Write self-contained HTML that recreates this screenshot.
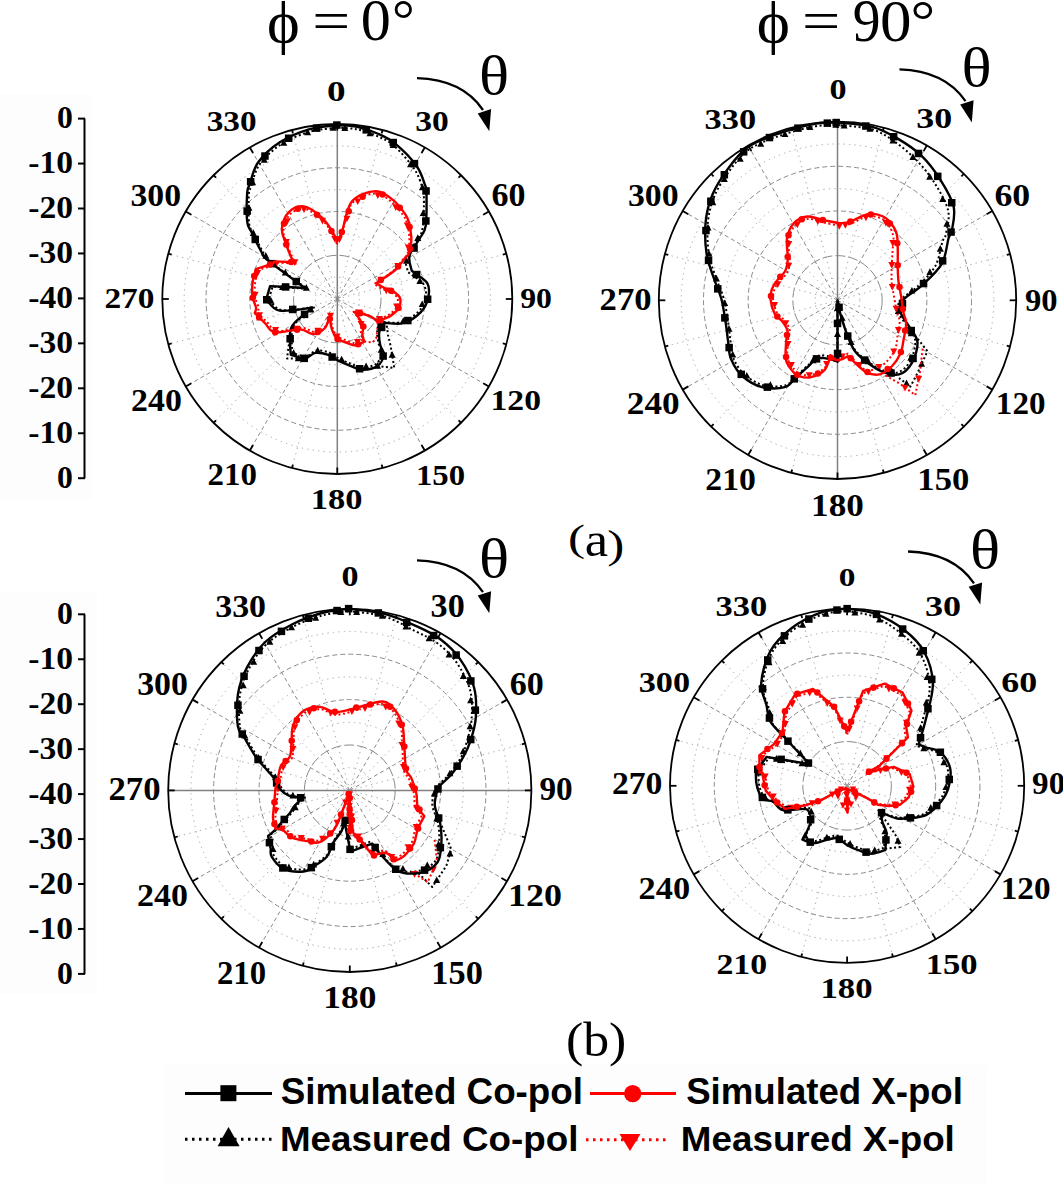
<!DOCTYPE html><html><head><meta charset="utf-8"><style>html,body{margin:0;padding:0;background:#fff;overflow:hidden}svg{display:block}</style></head><body><svg width="1063" height="1185" viewBox="0 0 1063 1185">
<rect width="1063" height="1185" fill="#fff"/>
<rect x="0" y="94" width="92" height="405" fill="#fdfdfd"/>
<rect x="0" y="592" width="97" height="402" fill="#fdfdfd"/>
<rect x="164" y="1065" width="823" height="120" fill="#fdfdfd"/>
<circle cx="337.3" cy="299" r="21.88" fill="none" stroke="#a8a8a8" stroke-width="1" stroke-dasharray="1.3 4.2"/>
<circle cx="337.3" cy="299" r="65.62" fill="none" stroke="#a8a8a8" stroke-width="1" stroke-dasharray="1.3 4.2"/>
<circle cx="337.3" cy="299" r="109.38" fill="none" stroke="#a8a8a8" stroke-width="1" stroke-dasharray="1.3 4.2"/>
<circle cx="337.3" cy="299" r="153.12" fill="none" stroke="#a8a8a8" stroke-width="1" stroke-dasharray="1.3 4.2"/>
<circle cx="337.3" cy="299" r="43.75" fill="none" stroke="#8a8a8a" stroke-width="1" stroke-dasharray="10 3"/>
<circle cx="337.3" cy="299" r="87.50" fill="none" stroke="#8a8a8a" stroke-width="1" stroke-dasharray="5 3"/>
<circle cx="337.3" cy="299" r="131.25" fill="none" stroke="#8a8a8a" stroke-width="1" stroke-dasharray="5 3"/>
<line x1="337.3" y1="299" x2="382.59" y2="129.96" stroke="#a8a8a8" stroke-width="1" stroke-dasharray="1.3 4.2"/>
<line x1="337.3" y1="299" x2="424.80" y2="147.45" stroke="#8a8a8a" stroke-width="1" stroke-dasharray="4 3"/>
<line x1="337.3" y1="299" x2="461.04" y2="175.26" stroke="#a8a8a8" stroke-width="1" stroke-dasharray="1.3 4.2"/>
<line x1="337.3" y1="299" x2="488.85" y2="211.50" stroke="#8a8a8a" stroke-width="1" stroke-dasharray="4 3"/>
<line x1="337.3" y1="299" x2="506.34" y2="253.71" stroke="#a8a8a8" stroke-width="1" stroke-dasharray="1.3 4.2"/>
<line x1="337.3" y1="299" x2="506.34" y2="344.29" stroke="#a8a8a8" stroke-width="1" stroke-dasharray="1.3 4.2"/>
<line x1="337.3" y1="299" x2="488.85" y2="386.50" stroke="#8a8a8a" stroke-width="1" stroke-dasharray="4 3"/>
<line x1="337.3" y1="299" x2="461.04" y2="422.74" stroke="#a8a8a8" stroke-width="1" stroke-dasharray="1.3 4.2"/>
<line x1="337.3" y1="299" x2="424.80" y2="450.55" stroke="#8a8a8a" stroke-width="1" stroke-dasharray="4 3"/>
<line x1="337.3" y1="299" x2="382.59" y2="468.04" stroke="#a8a8a8" stroke-width="1" stroke-dasharray="1.3 4.2"/>
<line x1="337.3" y1="299" x2="292.01" y2="468.04" stroke="#a8a8a8" stroke-width="1" stroke-dasharray="1.3 4.2"/>
<line x1="337.3" y1="299" x2="249.80" y2="450.55" stroke="#8a8a8a" stroke-width="1" stroke-dasharray="4 3"/>
<line x1="337.3" y1="299" x2="213.56" y2="422.74" stroke="#a8a8a8" stroke-width="1" stroke-dasharray="1.3 4.2"/>
<line x1="337.3" y1="299" x2="185.75" y2="386.50" stroke="#8a8a8a" stroke-width="1" stroke-dasharray="4 3"/>
<line x1="337.3" y1="299" x2="168.26" y2="344.29" stroke="#a8a8a8" stroke-width="1" stroke-dasharray="1.3 4.2"/>
<line x1="337.3" y1="299" x2="168.26" y2="253.71" stroke="#a8a8a8" stroke-width="1" stroke-dasharray="1.3 4.2"/>
<line x1="337.3" y1="299" x2="185.75" y2="211.50" stroke="#8a8a8a" stroke-width="1" stroke-dasharray="4 3"/>
<line x1="337.3" y1="299" x2="213.56" y2="175.26" stroke="#a8a8a8" stroke-width="1" stroke-dasharray="1.3 4.2"/>
<line x1="337.3" y1="299" x2="249.80" y2="147.45" stroke="#8a8a8a" stroke-width="1" stroke-dasharray="4 3"/>
<line x1="337.3" y1="299" x2="292.01" y2="129.96" stroke="#a8a8a8" stroke-width="1" stroke-dasharray="1.3 4.2"/>
<line x1="337.3" y1="124" x2="337.3" y2="474" stroke="#808080" stroke-width="1.5"/>
<circle cx="837.5" cy="300.3" r="22.34" fill="none" stroke="#a8a8a8" stroke-width="1" stroke-dasharray="1.3 4.2"/>
<circle cx="837.5" cy="300.3" r="67.01" fill="none" stroke="#a8a8a8" stroke-width="1" stroke-dasharray="1.3 4.2"/>
<circle cx="837.5" cy="300.3" r="111.69" fill="none" stroke="#a8a8a8" stroke-width="1" stroke-dasharray="1.3 4.2"/>
<circle cx="837.5" cy="300.3" r="156.36" fill="none" stroke="#a8a8a8" stroke-width="1" stroke-dasharray="1.3 4.2"/>
<circle cx="837.5" cy="300.3" r="44.67" fill="none" stroke="#8a8a8a" stroke-width="1" stroke-dasharray="10 3"/>
<circle cx="837.5" cy="300.3" r="89.35" fill="none" stroke="#8a8a8a" stroke-width="1" stroke-dasharray="5 3"/>
<circle cx="837.5" cy="300.3" r="134.02" fill="none" stroke="#8a8a8a" stroke-width="1" stroke-dasharray="5 3"/>
<line x1="837.5" y1="300.3" x2="883.75" y2="127.69" stroke="#a8a8a8" stroke-width="1" stroke-dasharray="1.3 4.2"/>
<line x1="837.5" y1="300.3" x2="926.85" y2="145.54" stroke="#8a8a8a" stroke-width="1" stroke-dasharray="4 3"/>
<line x1="837.5" y1="300.3" x2="963.86" y2="173.94" stroke="#a8a8a8" stroke-width="1" stroke-dasharray="1.3 4.2"/>
<line x1="837.5" y1="300.3" x2="992.26" y2="210.95" stroke="#8a8a8a" stroke-width="1" stroke-dasharray="4 3"/>
<line x1="837.5" y1="300.3" x2="1010.11" y2="254.05" stroke="#a8a8a8" stroke-width="1" stroke-dasharray="1.3 4.2"/>
<line x1="837.5" y1="300.3" x2="1010.11" y2="346.55" stroke="#a8a8a8" stroke-width="1" stroke-dasharray="1.3 4.2"/>
<line x1="837.5" y1="300.3" x2="992.26" y2="389.65" stroke="#8a8a8a" stroke-width="1" stroke-dasharray="4 3"/>
<line x1="837.5" y1="300.3" x2="963.86" y2="426.66" stroke="#a8a8a8" stroke-width="1" stroke-dasharray="1.3 4.2"/>
<line x1="837.5" y1="300.3" x2="926.85" y2="455.06" stroke="#8a8a8a" stroke-width="1" stroke-dasharray="4 3"/>
<line x1="837.5" y1="300.3" x2="883.75" y2="472.91" stroke="#a8a8a8" stroke-width="1" stroke-dasharray="1.3 4.2"/>
<line x1="837.5" y1="300.3" x2="791.25" y2="472.91" stroke="#a8a8a8" stroke-width="1" stroke-dasharray="1.3 4.2"/>
<line x1="837.5" y1="300.3" x2="748.15" y2="455.06" stroke="#8a8a8a" stroke-width="1" stroke-dasharray="4 3"/>
<line x1="837.5" y1="300.3" x2="711.14" y2="426.66" stroke="#a8a8a8" stroke-width="1" stroke-dasharray="1.3 4.2"/>
<line x1="837.5" y1="300.3" x2="682.74" y2="389.65" stroke="#8a8a8a" stroke-width="1" stroke-dasharray="4 3"/>
<line x1="837.5" y1="300.3" x2="664.89" y2="346.55" stroke="#a8a8a8" stroke-width="1" stroke-dasharray="1.3 4.2"/>
<line x1="837.5" y1="300.3" x2="664.89" y2="254.05" stroke="#a8a8a8" stroke-width="1" stroke-dasharray="1.3 4.2"/>
<line x1="837.5" y1="300.3" x2="682.74" y2="210.95" stroke="#8a8a8a" stroke-width="1" stroke-dasharray="4 3"/>
<line x1="837.5" y1="300.3" x2="711.14" y2="173.94" stroke="#a8a8a8" stroke-width="1" stroke-dasharray="1.3 4.2"/>
<line x1="837.5" y1="300.3" x2="748.15" y2="145.54" stroke="#8a8a8a" stroke-width="1" stroke-dasharray="4 3"/>
<line x1="837.5" y1="300.3" x2="791.25" y2="127.69" stroke="#a8a8a8" stroke-width="1" stroke-dasharray="1.3 4.2"/>
<line x1="837.5" y1="121.60000000000002" x2="837.5" y2="479.0" stroke="#808080" stroke-width="1.5"/>
<circle cx="349.8" cy="790.4" r="22.70" fill="none" stroke="#a8a8a8" stroke-width="1" stroke-dasharray="1.3 4.2"/>
<circle cx="349.8" cy="790.4" r="68.10" fill="none" stroke="#a8a8a8" stroke-width="1" stroke-dasharray="1.3 4.2"/>
<circle cx="349.8" cy="790.4" r="113.50" fill="none" stroke="#a8a8a8" stroke-width="1" stroke-dasharray="1.3 4.2"/>
<circle cx="349.8" cy="790.4" r="158.90" fill="none" stroke="#a8a8a8" stroke-width="1" stroke-dasharray="1.3 4.2"/>
<circle cx="349.8" cy="790.4" r="45.40" fill="none" stroke="#8a8a8a" stroke-width="1" stroke-dasharray="10 3"/>
<circle cx="349.8" cy="790.4" r="90.80" fill="none" stroke="#8a8a8a" stroke-width="1" stroke-dasharray="5 3"/>
<circle cx="349.8" cy="790.4" r="136.20" fill="none" stroke="#8a8a8a" stroke-width="1" stroke-dasharray="5 3"/>
<line x1="349.8" y1="790.4" x2="396.80" y2="614.99" stroke="#a8a8a8" stroke-width="1" stroke-dasharray="1.3 4.2"/>
<line x1="349.8" y1="790.4" x2="440.60" y2="633.13" stroke="#8a8a8a" stroke-width="1" stroke-dasharray="4 3"/>
<line x1="349.8" y1="790.4" x2="478.21" y2="661.99" stroke="#a8a8a8" stroke-width="1" stroke-dasharray="1.3 4.2"/>
<line x1="349.8" y1="790.4" x2="507.07" y2="699.60" stroke="#8a8a8a" stroke-width="1" stroke-dasharray="4 3"/>
<line x1="349.8" y1="790.4" x2="525.21" y2="743.40" stroke="#a8a8a8" stroke-width="1" stroke-dasharray="1.3 4.2"/>
<line x1="349.8" y1="790.4" x2="525.21" y2="837.40" stroke="#a8a8a8" stroke-width="1" stroke-dasharray="1.3 4.2"/>
<line x1="349.8" y1="790.4" x2="507.07" y2="881.20" stroke="#8a8a8a" stroke-width="1" stroke-dasharray="4 3"/>
<line x1="349.8" y1="790.4" x2="478.21" y2="918.81" stroke="#a8a8a8" stroke-width="1" stroke-dasharray="1.3 4.2"/>
<line x1="349.8" y1="790.4" x2="440.60" y2="947.67" stroke="#8a8a8a" stroke-width="1" stroke-dasharray="4 3"/>
<line x1="349.8" y1="790.4" x2="396.80" y2="965.81" stroke="#a8a8a8" stroke-width="1" stroke-dasharray="1.3 4.2"/>
<line x1="349.8" y1="790.4" x2="302.80" y2="965.81" stroke="#a8a8a8" stroke-width="1" stroke-dasharray="1.3 4.2"/>
<line x1="349.8" y1="790.4" x2="259.00" y2="947.67" stroke="#8a8a8a" stroke-width="1" stroke-dasharray="4 3"/>
<line x1="349.8" y1="790.4" x2="221.39" y2="918.81" stroke="#a8a8a8" stroke-width="1" stroke-dasharray="1.3 4.2"/>
<line x1="349.8" y1="790.4" x2="192.53" y2="881.20" stroke="#8a8a8a" stroke-width="1" stroke-dasharray="4 3"/>
<line x1="349.8" y1="790.4" x2="174.39" y2="837.40" stroke="#a8a8a8" stroke-width="1" stroke-dasharray="1.3 4.2"/>
<line x1="349.8" y1="790.4" x2="174.39" y2="743.40" stroke="#a8a8a8" stroke-width="1" stroke-dasharray="1.3 4.2"/>
<line x1="349.8" y1="790.4" x2="192.53" y2="699.60" stroke="#8a8a8a" stroke-width="1" stroke-dasharray="4 3"/>
<line x1="349.8" y1="790.4" x2="221.39" y2="661.99" stroke="#a8a8a8" stroke-width="1" stroke-dasharray="1.3 4.2"/>
<line x1="349.8" y1="790.4" x2="259.00" y2="633.13" stroke="#8a8a8a" stroke-width="1" stroke-dasharray="4 3"/>
<line x1="349.8" y1="790.4" x2="302.80" y2="614.99" stroke="#a8a8a8" stroke-width="1" stroke-dasharray="1.3 4.2"/>
<line x1="168.20000000000002" y1="790.4" x2="531.4" y2="790.4" stroke="#808080" stroke-width="1.5"/>
<circle cx="847.1" cy="785.8" r="22.14" fill="none" stroke="#a8a8a8" stroke-width="1" stroke-dasharray="1.3 4.2"/>
<circle cx="847.1" cy="785.8" r="66.41" fill="none" stroke="#a8a8a8" stroke-width="1" stroke-dasharray="1.3 4.2"/>
<circle cx="847.1" cy="785.8" r="110.69" fill="none" stroke="#a8a8a8" stroke-width="1" stroke-dasharray="1.3 4.2"/>
<circle cx="847.1" cy="785.8" r="154.96" fill="none" stroke="#a8a8a8" stroke-width="1" stroke-dasharray="1.3 4.2"/>
<circle cx="847.1" cy="785.8" r="44.27" fill="none" stroke="#8a8a8a" stroke-width="1" stroke-dasharray="10 3"/>
<circle cx="847.1" cy="785.8" r="88.55" fill="none" stroke="#8a8a8a" stroke-width="1" stroke-dasharray="5 3"/>
<circle cx="847.1" cy="785.8" r="132.82" fill="none" stroke="#8a8a8a" stroke-width="1" stroke-dasharray="5 3"/>
<line x1="847.1" y1="785.8" x2="892.94" y2="614.73" stroke="#a8a8a8" stroke-width="1" stroke-dasharray="1.3 4.2"/>
<line x1="847.1" y1="785.8" x2="935.65" y2="632.43" stroke="#8a8a8a" stroke-width="1" stroke-dasharray="4 3"/>
<line x1="847.1" y1="785.8" x2="972.33" y2="660.57" stroke="#a8a8a8" stroke-width="1" stroke-dasharray="1.3 4.2"/>
<line x1="847.1" y1="785.8" x2="1000.47" y2="697.25" stroke="#8a8a8a" stroke-width="1" stroke-dasharray="4 3"/>
<line x1="847.1" y1="785.8" x2="1018.17" y2="739.96" stroke="#a8a8a8" stroke-width="1" stroke-dasharray="1.3 4.2"/>
<line x1="847.1" y1="785.8" x2="1018.17" y2="831.64" stroke="#a8a8a8" stroke-width="1" stroke-dasharray="1.3 4.2"/>
<line x1="847.1" y1="785.8" x2="1000.47" y2="874.35" stroke="#8a8a8a" stroke-width="1" stroke-dasharray="4 3"/>
<line x1="847.1" y1="785.8" x2="972.33" y2="911.03" stroke="#a8a8a8" stroke-width="1" stroke-dasharray="1.3 4.2"/>
<line x1="847.1" y1="785.8" x2="935.65" y2="939.17" stroke="#8a8a8a" stroke-width="1" stroke-dasharray="4 3"/>
<line x1="847.1" y1="785.8" x2="892.94" y2="956.87" stroke="#a8a8a8" stroke-width="1" stroke-dasharray="1.3 4.2"/>
<line x1="847.1" y1="785.8" x2="801.26" y2="956.87" stroke="#a8a8a8" stroke-width="1" stroke-dasharray="1.3 4.2"/>
<line x1="847.1" y1="785.8" x2="758.55" y2="939.17" stroke="#8a8a8a" stroke-width="1" stroke-dasharray="4 3"/>
<line x1="847.1" y1="785.8" x2="721.87" y2="911.03" stroke="#a8a8a8" stroke-width="1" stroke-dasharray="1.3 4.2"/>
<line x1="847.1" y1="785.8" x2="693.73" y2="874.35" stroke="#8a8a8a" stroke-width="1" stroke-dasharray="4 3"/>
<line x1="847.1" y1="785.8" x2="676.03" y2="831.64" stroke="#a8a8a8" stroke-width="1" stroke-dasharray="1.3 4.2"/>
<line x1="847.1" y1="785.8" x2="676.03" y2="739.96" stroke="#a8a8a8" stroke-width="1" stroke-dasharray="1.3 4.2"/>
<line x1="847.1" y1="785.8" x2="693.73" y2="697.25" stroke="#8a8a8a" stroke-width="1" stroke-dasharray="4 3"/>
<line x1="847.1" y1="785.8" x2="721.87" y2="660.57" stroke="#a8a8a8" stroke-width="1" stroke-dasharray="1.3 4.2"/>
<line x1="847.1" y1="785.8" x2="758.55" y2="632.43" stroke="#8a8a8a" stroke-width="1" stroke-dasharray="4 3"/>
<line x1="847.1" y1="785.8" x2="801.26" y2="614.73" stroke="#a8a8a8" stroke-width="1" stroke-dasharray="1.3 4.2"/>
<path d="M336.8,127.6 C340.1,127.9 350.1,127.9 356.8,129.3 C363.5,130.7 370.6,133.1 376.8,135.9 C383.1,138.7 388.1,140.5 394.3,146.0 C400.6,151.6 409.7,162.2 414.4,169.1 C419.0,176.0 420.8,182.9 422.4,187.5 C424.0,192.1 423.9,189.9 423.9,196.8 C424.0,203.6 423.9,221.0 422.6,228.4 C421.4,235.7 419.2,236.0 416.5,240.9 C413.7,245.7 407.7,252.6 406.2,257.6 C404.7,262.5 407.0,267.8 407.6,270.5 C408.2,273.2 407.4,271.5 410.0,273.7 C412.7,276.0 420.9,280.0 423.5,284.1 C426.1,288.2 426.5,293.7 425.6,298.3 C424.7,303.0 422.2,308.0 418.1,312.0 C414.1,316.0 407.4,320.7 401.4,322.3 C395.3,323.9 385.0,321.7 381.8,321.6 C381.0,323.1 377.9,327.0 377.3,330.6 C376.8,334.2 377.7,339.5 378.5,343.2 C379.3,346.9 382.7,349.4 382.3,352.9 C381.9,356.3 379.3,361.5 376.0,364.0 C372.7,366.4 366.6,367.5 362.3,367.5 C358.1,367.4 354.6,365.2 350.5,363.7 C346.4,362.1 341.4,359.8 337.8,357.9 C334.2,356.0 332.4,353.6 328.8,352.3 C325.2,351.1 320.0,349.9 316.2,350.6 C312.5,351.2 310.1,355.9 306.1,356.3 C302.1,356.7 294.7,353.5 292.4,352.9 C292.3,349.5 291.2,337.8 291.9,332.6 C292.6,327.4 293.0,325.9 296.8,321.6 C300.6,317.3 311.8,309.3 314.8,306.9 C309.3,307.4 289.6,311.4 282.0,310.1 C274.3,308.8 271.0,301.1 268.8,299.3 C269.4,297.2 271.9,288.7 272.6,286.6 C278.3,286.9 301.5,288.4 307.3,288.8 C301.1,284.3 277.6,267.8 270.4,261.9 C263.1,256.0 266.6,258.2 263.7,253.4 C260.9,248.7 255.8,238.4 253.4,233.3 C250.9,228.3 249.9,229.7 249.1,223.2 C248.3,216.8 248.5,200.9 248.8,194.7 C249.2,188.5 249.4,191.3 251.2,186.3 C253.0,181.2 254.5,171.5 259.5,164.5 C264.4,157.5 272.7,149.8 281.1,144.3 C289.4,138.9 300.1,134.6 309.4,131.8 C318.7,129.0 332.2,128.3 336.8,127.6" fill="none" stroke="#000" stroke-width="2.0" stroke-linejoin="round" stroke-dasharray="2 2.5"/>
<polygon points="344.8,124.3 348.3,130.9 341.3,130.9" fill="#000"/>
<polygon points="370.0,129.7 373.5,136.3 366.5,136.3" fill="#000"/>
<polygon points="393.1,141.4 396.6,148.0 389.6,148.0" fill="#000"/>
<polygon points="410.5,160.7 414.0,167.3 407.0,167.3" fill="#000"/>
<polygon points="422.4,183.5 425.9,190.2 418.9,190.2" fill="#000"/>
<polygon points="423.2,209.4 426.7,216.0 419.7,216.0" fill="#000"/>
<polygon points="417.8,234.2 421.3,240.9 414.3,240.9" fill="#000"/>
<polygon points="406.5,257.0 410.0,263.7 403.0,263.7" fill="#000"/>
<polygon points="419.9,277.3 423.4,283.9 416.4,283.9" fill="#000"/>
<polygon points="422.2,300.5 425.7,307.1 418.7,307.1" fill="#000"/>
<polygon points="403.3,317.2 406.8,323.8 399.8,323.8" fill="#000"/>
<polygon points="379.9,321.3 383.4,327.9 376.4,327.9" fill="#000"/>
<polygon points="381.2,346.1 384.7,352.7 377.7,352.7" fill="#000"/>
<polygon points="366.1,362.5 369.6,369.2 362.6,369.2" fill="#000"/>
<polygon points="341.6,355.7 345.1,362.3 338.1,362.3" fill="#000"/>
<polygon points="317.7,346.8 321.2,353.5 314.2,353.5" fill="#000"/>
<polygon points="293.6,349.2 297.1,355.8 290.1,355.8" fill="#000"/>
<polygon points="293.7,324.5 297.2,331.2 290.2,331.2" fill="#000"/>
<polygon points="311.0,305.9 314.5,312.6 307.5,312.6" fill="#000"/>
<polygon points="293.7,305.0 297.2,311.6 290.2,311.6" fill="#000"/>
<polygon points="271.0,297.1 274.5,303.7 267.5,303.7" fill="#000"/>
<polygon points="282.5,283.2 286.0,289.9 279.0,289.9" fill="#000"/>
<polygon points="306.3,284.1 309.8,290.8 302.8,290.8" fill="#000"/>
<polygon points="285.3,268.8 288.8,275.5 281.8,275.5" fill="#000"/>
<polygon points="265.8,252.0 269.3,258.7 262.3,258.7" fill="#000"/>
<polygon points="253.3,229.2 256.8,235.9 249.8,235.9" fill="#000"/>
<polygon points="248.9,204.1 252.4,210.7 245.4,210.7" fill="#000"/>
<polygon points="252.6,178.7 256.1,185.3 249.1,185.3" fill="#000"/>
<polygon points="264.2,156.0 267.7,162.7 260.7,162.7" fill="#000"/>
<polygon points="283.8,139.1 287.3,145.8 280.3,145.8" fill="#000"/>
<polygon points="307.6,128.6 311.1,135.2 304.1,135.2" fill="#000"/>
<polygon points="333.1,124.2 336.6,130.8 329.6,130.8" fill="#000"/>
<path d="M336.8,244.4 C337.6,242.7 339.3,241.1 341.7,234.3 C344.2,227.5 346.1,210.6 351.6,203.8 C357.2,197.0 368.2,193.8 374.9,193.5 C381.5,193.1 386.7,198.2 391.4,201.8 C396.1,205.4 400.4,211.5 403.0,215.1 C405.6,218.7 405.9,219.5 407.0,223.4 C408.1,227.3 409.3,233.4 409.4,238.4 C409.5,243.4 408.7,249.8 407.5,253.5 C406.3,257.1 404.8,257.1 402.4,260.1 C399.9,263.0 397.8,267.1 393.1,271.1 C388.4,275.1 377.2,282.0 374.1,284.1 C375.6,285.0 380.6,288.0 383.5,289.3 C386.3,290.6 388.6,290.4 390.9,291.9 C393.3,293.4 396.6,295.7 397.5,298.2 C398.4,300.8 397.9,304.5 396.5,307.3 C395.1,310.0 391.6,312.7 389.1,314.5 C386.6,316.3 383.9,317.1 381.7,317.9 C379.5,318.8 378.4,320.1 376.1,319.6 C373.8,319.1 370.6,316.2 367.7,314.9 C364.7,313.7 360.9,312.7 358.4,312.0 C355.9,311.3 353.7,311.0 352.8,310.8 C353.6,311.9 356.2,314.9 357.6,317.2 C359.1,319.5 361.0,322.1 361.6,324.6 C362.1,327.0 360.6,329.5 360.8,332.0 C361.1,334.4 362.5,338.2 362.9,339.4 C361.5,340.0 358.1,343.0 354.8,343.0 C351.5,342.9 346.1,340.2 343.1,339.0 C340.2,337.9 338.7,338.1 336.9,336.2 C335.2,334.3 333.7,331.3 332.6,327.7 C331.5,324.2 330.8,316.9 330.4,314.7 C329.6,316.6 328.3,323.1 325.7,326.0 C323.1,328.9 318.7,331.7 314.8,332.0 C310.9,332.3 308.4,328.0 302.1,327.8 C295.8,327.6 282.8,331.9 277.0,331.0 C271.2,330.1 270.7,325.5 267.4,322.4 C264.1,319.3 258.9,314.3 257.3,312.7 C257.5,311.8 258.8,309.7 258.5,307.1 C258.1,304.6 255.7,301.4 255.1,297.4 C254.5,293.3 254.5,287.7 255.1,283.1 C255.6,278.5 257.8,272.1 258.3,269.9 C261.1,269.0 271.9,265.8 275.1,264.6 C278.2,263.4 273.8,262.8 277.2,262.7 C280.7,262.6 292.6,263.6 295.7,263.8 C295.1,262.7 293.7,260.5 292.2,257.2 C290.8,253.9 288.4,248.2 287.0,243.7 C285.5,239.3 283.0,235.2 283.4,230.4 C283.9,225.5 286.4,218.1 289.9,214.5 C293.5,210.9 299.2,207.7 304.7,208.8 C310.3,209.8 318.0,215.9 323.0,220.7 C327.9,225.5 332.2,233.6 334.5,237.6 C336.8,241.6 336.4,243.3 336.8,244.4" fill="none" stroke="#ff0000" stroke-width="2.0" stroke-linejoin="round" stroke-dasharray="2 2.5"/>
<polygon points="339.4,243.0 342.9,236.3 335.9,236.3" fill="#ff0000"/>
<polygon points="346.9,222.3 350.4,215.7 343.4,215.7" fill="#ff0000"/>
<polygon points="357.7,205.1 361.2,198.4 354.2,198.4" fill="#ff0000"/>
<polygon points="377.8,198.9 381.3,192.3 374.3,192.3" fill="#ff0000"/>
<polygon points="395.8,210.9 399.3,204.2 392.3,204.2" fill="#ff0000"/>
<polygon points="407.3,229.2 410.8,222.6 403.8,222.6" fill="#ff0000"/>
<polygon points="408.3,251.0 411.8,244.4 404.8,244.4" fill="#ff0000"/>
<polygon points="397.8,269.5 401.3,262.9 394.3,262.9" fill="#ff0000"/>
<polygon points="380.9,283.4 384.4,276.8 377.4,276.8" fill="#ff0000"/>
<polygon points="386.3,294.3 389.8,287.6 382.8,287.6" fill="#ff0000"/>
<polygon points="396.6,310.1 400.1,303.5 393.1,303.5" fill="#ff0000"/>
<polygon points="379.4,322.6 382.9,315.9 375.9,315.9" fill="#ff0000"/>
<polygon points="359.2,316.3 362.7,309.6 355.7,309.6" fill="#ff0000"/>
<polygon points="361.1,327.7 364.6,321.1 357.6,321.1" fill="#ff0000"/>
<polygon points="357.5,345.8 361.0,339.1 354.0,339.1" fill="#ff0000"/>
<polygon points="337.0,340.2 340.5,333.6 333.5,333.6" fill="#ff0000"/>
<polygon points="330.5,319.5 334.0,312.8 327.0,312.8" fill="#ff0000"/>
<polygon points="317.8,334.3 321.3,327.7 314.3,327.7" fill="#ff0000"/>
<polygon points="297.0,332.5 300.5,325.8 293.5,325.8" fill="#ff0000"/>
<polygon points="275.6,333.8 279.1,327.1 272.1,327.1" fill="#ff0000"/>
<polygon points="259.5,318.8 263.0,312.2 256.0,312.2" fill="#ff0000"/>
<polygon points="255.1,298.5 258.6,291.8 251.6,291.8" fill="#ff0000"/>
<polygon points="257.6,276.8 261.1,270.1 254.1,270.1" fill="#ff0000"/>
<polygon points="276.2,267.6 279.7,261.0 272.7,261.0" fill="#ff0000"/>
<polygon points="294.8,266.0 298.3,259.3 291.3,259.3" fill="#ff0000"/>
<polygon points="286.4,245.7 289.9,239.0 282.9,239.0" fill="#ff0000"/>
<polygon points="287.3,224.8 290.8,218.2 283.8,218.2" fill="#ff0000"/>
<polygon points="304.0,213.0 307.5,206.4 300.5,206.4" fill="#ff0000"/>
<polygon points="322.5,224.4 326.0,217.7 319.0,217.7" fill="#ff0000"/>
<polygon points="334.8,242.5 338.3,235.9 331.3,235.9" fill="#ff0000"/>
<polyline points="386.8,325.6 388.0,335.0 390.5,345.4 394.3,368.0 377.3,366.1" fill="none" stroke="#000" stroke-width="2.0" stroke-linejoin="round" stroke-dasharray="2 2.5"/>
<polygon points="392.1,351.1 395.6,357.8 388.6,357.8" fill="#000"/>
<polygon points="377.5,362.1 381.0,368.8 374.0,368.8" fill="#000"/>
<polyline points="289.5,340.0 287.0,358.5 304.9,358.5" fill="none" stroke="#000" stroke-width="2.0" stroke-linejoin="round" stroke-dasharray="2 2.5"/>
<polygon points="298.3,354.5 301.8,361.2 294.8,361.2" fill="#000"/>
<polyline points="364.2,341.5 372.7,342.4 376.4,337.7 378.3,320.8" fill="none" stroke="#ff0000" stroke-width="2.0" stroke-linejoin="round" stroke-dasharray="2 2.5"/>
<polygon points="378.1,326.3 381.6,319.7 374.6,319.7" fill="#ff0000"/>
<path d="M336.8,125.1 C340.2,125.4 350.3,125.4 357.1,126.8 C363.9,128.2 371.0,130.7 377.4,133.5 C383.8,136.3 388.7,138.3 395.2,143.7 C401.7,149.1 411.5,158.9 416.4,165.7 C421.3,172.5 423.1,179.6 424.8,184.3 C426.5,189.0 426.4,186.8 426.5,193.7 C426.6,200.6 426.8,218.3 425.7,225.8 C424.6,233.3 422.4,233.6 419.7,238.5 C417.0,243.4 411.0,250.4 409.6,255.5 C408.2,260.6 410.6,266.2 411.3,269.0 C412.0,271.8 411.1,270.0 413.8,272.4 C416.5,274.8 425.0,279.1 427.4,283.4 C429.8,287.7 429.2,293.5 428.1,298.3 C427.0,303.1 424.7,308.2 420.6,312.4 C416.5,316.5 409.8,321.5 403.7,323.2 C397.6,324.9 387.3,322.8 384.0,322.7 C383.2,324.3 379.9,328.4 379.3,332.1 C378.7,335.8 379.4,341.2 380.2,345.0 C381.0,348.8 384.4,351.3 383.9,354.8 C383.4,358.3 380.8,363.6 377.3,366.1 C373.9,368.6 367.6,369.8 363.2,369.8 C358.8,369.8 355.2,367.7 351.0,366.1 C346.8,364.5 341.6,362.3 337.8,360.4 C334.0,358.5 332.1,356.1 328.4,354.8 C324.6,353.6 319.2,352.3 315.3,352.9 C311.4,353.5 309.0,358.2 304.9,358.5 C300.8,358.8 293.1,355.4 290.8,354.8 C290.6,351.4 289.3,339.4 289.9,334.1 C290.5,328.8 290.9,327.2 294.6,322.8 C298.4,318.4 309.4,310.2 312.4,307.7 C306.9,308.2 287.2,312.0 279.5,310.6 C271.8,309.2 268.5,301.2 266.3,299.3 C266.9,297.1 269.5,288.3 270.1,286.1 C275.9,286.4 299.1,287.7 304.9,288.0 C298.8,283.4 275.4,266.7 268.2,260.7 C261.0,254.7 264.4,256.9 261.6,252.1 C258.8,247.3 253.8,236.9 251.4,231.8 C249.0,226.7 247.9,228.1 247.2,221.6 C246.5,215.1 246.8,199.0 247.2,192.8 C247.6,186.6 247.9,189.4 249.7,184.3 C251.5,179.2 253.1,169.4 258.2,162.3 C263.3,155.2 271.7,147.5 280.2,142.0 C288.7,136.5 299.6,132.1 309.0,129.3 C318.4,126.5 332.2,125.8 336.8,125.1" fill="none" stroke="#000" stroke-width="2.4" stroke-linejoin="round"/>
<rect x="333.1" y="121.3" width="7.5" height="7.5" fill="#000"/>
<rect x="362.5" y="126.1" width="7.5" height="7.5" fill="#000"/>
<rect x="389.5" y="138.8" width="7.5" height="7.5" fill="#000"/>
<rect x="410.7" y="159.9" width="7.5" height="7.5" fill="#000"/>
<rect x="422.3" y="187.2" width="7.5" height="7.5" fill="#000"/>
<rect x="422.1" y="217.2" width="7.5" height="7.5" fill="#000"/>
<rect x="410.3" y="244.3" width="7.5" height="7.5" fill="#000"/>
<rect x="412.7" y="270.8" width="7.5" height="7.5" fill="#000"/>
<rect x="423.9" y="295.5" width="7.5" height="7.5" fill="#000"/>
<rect x="404.1" y="316.8" width="7.5" height="7.5" fill="#000"/>
<rect x="377.9" y="323.7" width="7.5" height="7.5" fill="#000"/>
<rect x="379.4" y="352.3" width="7.5" height="7.5" fill="#000"/>
<rect x="355.9" y="365.0" width="7.5" height="7.5" fill="#000"/>
<rect x="328.4" y="353.3" width="7.5" height="7.5" fill="#000"/>
<rect x="300.5" y="354.6" width="7.5" height="7.5" fill="#000"/>
<rect x="286.4" y="335.0" width="7.5" height="7.5" fill="#000"/>
<rect x="300.8" y="310.6" width="7.5" height="7.5" fill="#000"/>
<rect x="289.0" y="305.7" width="7.5" height="7.5" fill="#000"/>
<rect x="263.0" y="296.0" width="7.5" height="7.5" fill="#000"/>
<rect x="281.9" y="283.2" width="7.5" height="7.5" fill="#000"/>
<rect x="292.5" y="277.8" width="7.5" height="7.5" fill="#000"/>
<rect x="268.4" y="259.9" width="7.5" height="7.5" fill="#000"/>
<rect x="251.5" y="235.7" width="7.5" height="7.5" fill="#000"/>
<rect x="243.4" y="207.4" width="7.5" height="7.5" fill="#000"/>
<rect x="246.9" y="178.0" width="7.5" height="7.5" fill="#000"/>
<rect x="261.2" y="152.3" width="7.5" height="7.5" fill="#000"/>
<rect x="284.9" y="134.5" width="7.5" height="7.5" fill="#000"/>
<rect x="312.9" y="124.4" width="7.5" height="7.5" fill="#000"/>
<path d="M336.8,241.9 C337.6,240.2 339.4,238.6 341.9,231.8 C344.4,225.0 346.4,208.1 352.0,201.3 C357.6,194.5 368.9,191.4 375.7,191.1 C382.5,190.8 387.8,195.9 392.6,199.6 C397.4,203.3 401.8,209.4 404.5,213.1 C407.2,216.8 407.6,217.6 408.7,221.6 C409.8,225.6 411.1,231.7 411.3,236.8 C411.5,241.9 410.7,248.4 409.6,252.1 C408.5,255.8 406.9,255.8 404.5,258.8 C402.1,261.8 400.0,265.9 395.3,270.0 C390.6,274.1 379.5,281.0 376.4,283.2 C378.0,284.1 383.1,287.4 385.9,288.8 C388.7,290.2 391.0,290.0 393.4,291.6 C395.8,293.2 399.1,295.5 400.0,298.2 C400.9,300.9 400.4,304.8 399.0,307.6 C397.6,310.4 394.0,313.3 391.5,315.2 C389.0,317.1 386.2,318.0 384.0,318.9 C381.8,319.8 380.7,321.3 378.3,320.8 C375.9,320.3 372.9,317.4 369.9,316.1 C366.9,314.9 363.0,313.9 360.5,313.3 C358.0,312.7 355.8,312.5 354.8,312.3 C355.6,313.4 358.1,316.5 359.5,318.9 C360.9,321.2 362.8,323.9 363.3,326.4 C363.8,328.9 362.2,331.5 362.3,334.0 C362.4,336.5 363.9,340.2 364.2,341.5 C362.8,342.1 359.1,345.3 355.7,345.3 C352.2,345.3 346.6,342.6 343.5,341.5 C340.4,340.4 338.8,340.6 336.9,338.7 C335.0,336.8 333.4,333.8 332.2,330.2 C330.9,326.6 329.9,319.2 329.4,317.0 C328.6,318.9 327.4,325.4 324.7,328.3 C322.0,331.2 317.5,333.9 313.4,334.1 C309.3,334.3 306.6,329.7 300.2,329.4 C293.8,329.1 280.7,333.2 274.8,332.2 C268.9,331.2 268.3,326.4 265.0,323.2 C261.7,320.0 256.5,314.8 254.8,313.1 C255.0,312.2 256.4,310.0 256.0,307.4 C255.6,304.8 253.2,301.4 252.6,297.3 C252.0,293.2 252.0,287.3 252.6,282.6 C253.2,277.9 255.4,271.3 256.0,269.0 C258.8,268.1 269.7,264.7 272.9,263.4 C276.1,262.1 271.6,261.6 275.1,261.4 C278.6,261.2 290.7,262.1 293.8,262.2 C293.2,261.1 291.8,258.9 290.4,255.5 C289.0,252.1 286.7,246.4 285.3,241.9 C283.9,237.4 281.3,233.3 281.9,228.4 C282.5,223.5 285.0,216.0 288.7,212.3 C292.4,208.6 298.3,205.4 303.9,206.4 C309.5,207.4 317.4,213.4 322.5,218.2 C327.6,223.0 332.0,231.1 334.4,235.1 C336.8,239.1 336.4,240.8 336.8,241.9" fill="none" stroke="#ff0000" stroke-width="2.4" stroke-linejoin="round"/>
<circle cx="341.8" cy="232.1" r="3.25" fill="#ff0000"/>
<circle cx="348.7" cy="211.2" r="3.25" fill="#ff0000"/>
<circle cx="362.6" cy="196.7" r="3.25" fill="#ff0000"/>
<circle cx="382.6" cy="194.6" r="3.25" fill="#ff0000"/>
<circle cx="399.8" cy="207.7" r="3.25" fill="#ff0000"/>
<circle cx="409.6" cy="226.9" r="3.25" fill="#ff0000"/>
<circle cx="410.0" cy="248.7" r="3.25" fill="#ff0000"/>
<circle cx="398.1" cy="266.6" r="3.25" fill="#ff0000"/>
<circle cx="380.8" cy="280.1" r="3.25" fill="#ff0000"/>
<circle cx="391.1" cy="290.7" r="3.25" fill="#ff0000"/>
<circle cx="398.5" cy="308.1" r="3.25" fill="#ff0000"/>
<circle cx="380.5" cy="320.1" r="3.25" fill="#ff0000"/>
<circle cx="360.2" cy="313.3" r="3.25" fill="#ff0000"/>
<circle cx="363.3" cy="326.4" r="3.25" fill="#ff0000"/>
<circle cx="358.2" cy="344.2" r="3.25" fill="#ff0000"/>
<circle cx="337.5" cy="339.0" r="3.25" fill="#ff0000"/>
<circle cx="329.8" cy="318.8" r="3.25" fill="#ff0000"/>
<circle cx="317.7" cy="331.9" r="3.25" fill="#ff0000"/>
<circle cx="297.1" cy="329.7" r="3.25" fill="#ff0000"/>
<circle cx="275.2" cy="332.2" r="3.25" fill="#ff0000"/>
<circle cx="259.1" cy="317.4" r="3.25" fill="#ff0000"/>
<circle cx="252.8" cy="297.8" r="3.25" fill="#ff0000"/>
<circle cx="254.2" cy="276.0" r="3.25" fill="#ff0000"/>
<circle cx="270.0" cy="264.4" r="3.25" fill="#ff0000"/>
<circle cx="291.1" cy="262.1" r="3.25" fill="#ff0000"/>
<circle cx="286.3" cy="244.5" r="3.25" fill="#ff0000"/>
<circle cx="284.0" cy="223.5" r="3.25" fill="#ff0000"/>
<circle cx="297.8" cy="208.7" r="3.25" fill="#ff0000"/>
<circle cx="317.0" cy="214.7" r="3.25" fill="#ff0000"/>
<circle cx="331.4" cy="230.9" r="3.25" fill="#ff0000"/>
<circle cx="337.3" cy="299" r="175" fill="none" stroke="#000" stroke-width="1.8"/>
<line x1="337.30" y1="124.00" x2="337.30" y2="130.50" stroke="#000" stroke-width="1.8"/>
<line x1="382.59" y1="129.96" x2="381.69" y2="133.34" stroke="#000" stroke-width="1.8"/>
<line x1="424.80" y1="147.45" x2="421.55" y2="153.07" stroke="#000" stroke-width="1.8"/>
<line x1="461.04" y1="175.26" x2="458.57" y2="177.73" stroke="#000" stroke-width="1.8"/>
<line x1="488.85" y1="211.50" x2="483.23" y2="214.75" stroke="#000" stroke-width="1.8"/>
<line x1="506.34" y1="253.71" x2="502.96" y2="254.61" stroke="#000" stroke-width="1.8"/>
<line x1="512.30" y1="299.00" x2="505.80" y2="299.00" stroke="#000" stroke-width="1.8"/>
<line x1="506.34" y1="344.29" x2="502.96" y2="343.39" stroke="#000" stroke-width="1.8"/>
<line x1="488.85" y1="386.50" x2="483.23" y2="383.25" stroke="#000" stroke-width="1.8"/>
<line x1="461.04" y1="422.74" x2="458.57" y2="420.27" stroke="#000" stroke-width="1.8"/>
<line x1="424.80" y1="450.55" x2="421.55" y2="444.93" stroke="#000" stroke-width="1.8"/>
<line x1="382.59" y1="468.04" x2="381.69" y2="464.66" stroke="#000" stroke-width="1.8"/>
<line x1="337.30" y1="474.00" x2="337.30" y2="467.50" stroke="#000" stroke-width="1.8"/>
<line x1="292.01" y1="468.04" x2="292.91" y2="464.66" stroke="#000" stroke-width="1.8"/>
<line x1="249.80" y1="450.55" x2="253.05" y2="444.93" stroke="#000" stroke-width="1.8"/>
<line x1="213.56" y1="422.74" x2="216.03" y2="420.27" stroke="#000" stroke-width="1.8"/>
<line x1="185.75" y1="386.50" x2="191.37" y2="383.25" stroke="#000" stroke-width="1.8"/>
<line x1="168.26" y1="344.29" x2="171.64" y2="343.39" stroke="#000" stroke-width="1.8"/>
<line x1="162.30" y1="299.00" x2="168.80" y2="299.00" stroke="#000" stroke-width="1.8"/>
<line x1="168.26" y1="253.71" x2="171.64" y2="254.61" stroke="#000" stroke-width="1.8"/>
<line x1="185.75" y1="211.50" x2="191.37" y2="214.75" stroke="#000" stroke-width="1.8"/>
<line x1="213.56" y1="175.26" x2="216.03" y2="177.73" stroke="#000" stroke-width="1.8"/>
<line x1="249.80" y1="147.45" x2="253.05" y2="153.07" stroke="#000" stroke-width="1.8"/>
<line x1="292.01" y1="129.96" x2="292.91" y2="133.34" stroke="#000" stroke-width="1.8"/>
<text transform="translate(326.91,101.31) scale(1.2738,1)" font-family="'Liberation Serif', serif" font-weight="bold" font-size="29.19" fill="#000">0</text>
<text transform="translate(206.65,130.80) scale(1.1060,1)" font-family="'Liberation Serif', serif" font-weight="bold" font-size="30.07" fill="#000">330</text>
<text transform="translate(415.34,130.80) scale(1.1144,1)" font-family="'Liberation Serif', serif" font-weight="bold" font-size="30.07" fill="#000">30</text>
<text transform="translate(130.43,206.38) scale(1.0597,1)" font-family="'Liberation Serif', serif" font-weight="bold" font-size="31.85" fill="#000">300</text>
<text transform="translate(491.41,206.37) scale(1.0373,1)" font-family="'Liberation Serif', serif" font-weight="bold" font-size="32.74" fill="#000">60</text>
<text transform="translate(104.38,307.70) scale(1.1099,1)" font-family="'Liberation Serif', serif" font-weight="bold" font-size="30.07" fill="#000">270</text>
<text transform="translate(520.13,307.50) scale(1.0562,1)" font-family="'Liberation Serif', serif" font-weight="bold" font-size="30.07" fill="#000">90</text>
<text transform="translate(131.06,410.69) scale(1.0836,1)" font-family="'Liberation Serif', serif" font-weight="bold" font-size="31.26" fill="#000">240</text>
<text transform="translate(490.51,410.31) scale(1.1583,1)" font-family="'Liberation Serif', serif" font-weight="bold" font-size="29.04" fill="#000">120</text>
<text transform="translate(207.50,485.09) scale(1.0543,1)" font-family="'Liberation Serif', serif" font-weight="bold" font-size="31.26" fill="#000">210</text>
<text transform="translate(415.98,484.90) scale(1.1004,1)" font-family="'Liberation Serif', serif" font-weight="bold" font-size="29.78" fill="#000">150</text>
<text transform="translate(310.74,509.30) scale(1.1645,1)" font-family="'Liberation Serif', serif" font-weight="bold" font-size="29.63" fill="#000">180</text>
<path d="M836.1,125.0 C842.1,125.7 861.8,126.3 871.8,129.3 C881.8,132.2 888.5,137.3 896.2,142.7 C903.8,148.1 911.3,154.7 917.9,161.7 C924.5,168.6 930.5,176.4 935.6,184.6 C940.6,192.8 946.4,202.6 948.2,210.8 C949.9,219.0 946.9,228.6 945.9,233.8 C945.0,238.9 944.2,236.5 942.4,241.9 C940.6,247.3 939.4,258.8 935.2,266.2 C931.0,273.7 923.1,281.0 917.4,286.6 C911.7,292.2 904.1,295.4 900.9,299.6 C897.7,303.8 897.2,307.5 898.1,311.8 C899.1,316.2 903.8,320.7 906.7,325.5 C909.5,330.4 914.7,334.9 915.3,340.8 C915.8,346.8 912.9,356.2 909.9,361.5 C906.9,366.8 902.3,371.1 897.5,372.5 C892.7,373.8 886.0,371.4 880.9,369.5 C875.8,367.5 871.4,364.2 867.0,360.9 C862.6,357.5 857.8,353.7 854.6,349.4 C851.3,345.2 850.1,341.9 847.6,335.3 C845.1,328.7 841.0,315.5 839.4,309.8 C837.8,304.2 838.1,303.0 837.8,301.5 C837.5,299.9 837.6,300.7 837.5,300.5 C837.5,310.3 837.5,349.5 837.5,359.3 C836.3,358.8 833.4,357.1 830.1,356.5 C826.9,356.0 821.3,354.7 817.9,355.9 C814.5,357.2 813.1,360.6 809.6,363.8 C806.1,367.0 801.1,371.7 797.2,375.2 C793.3,378.7 791.6,383.4 786.0,385.1 C780.4,386.7 770.7,387.1 763.7,385.3 C756.8,383.5 749.3,379.0 744.3,374.4 C739.2,369.9 735.5,363.3 733.2,357.8 C730.9,352.3 731.4,347.4 730.5,341.2 C729.6,335.0 729.0,327.6 727.9,320.4 C726.7,313.3 725.6,305.1 723.7,298.3 C721.8,291.5 719.1,286.9 716.7,279.6 C714.2,272.3 710.4,264.1 709.0,254.6 C707.5,245.2 706.9,232.6 707.8,222.9 C708.8,213.1 710.8,204.8 714.4,196.1 C718.0,187.5 723.5,178.8 729.3,171.0 C735.1,163.2 740.9,155.1 749.3,149.3 C757.6,143.4 768.8,139.6 779.3,135.9 C789.9,132.1 803.3,128.5 812.8,126.7 C822.2,124.9 832.2,125.3 836.1,125.0" fill="none" stroke="#000" stroke-width="2.0" stroke-linejoin="round" stroke-dasharray="2 2.5"/>
<polygon points="844.1,122.0 847.6,128.6 840.6,128.6" fill="#000"/>
<polygon points="869.9,125.0 873.4,131.7 866.4,131.7" fill="#000"/>
<polygon points="892.9,136.9 896.4,143.6 889.4,143.6" fill="#000"/>
<polygon points="912.9,153.3 916.4,160.0 909.4,160.0" fill="#000"/>
<polygon points="929.7,173.1 933.2,179.7 926.2,179.7" fill="#000"/>
<polygon points="942.7,195.4 946.2,202.1 939.2,202.1" fill="#000"/>
<polygon points="946.9,220.1 950.4,226.8 943.4,226.8" fill="#000"/>
<polygon points="940.3,245.0 943.8,251.7 936.8,251.7" fill="#000"/>
<polygon points="929.9,268.3 933.4,275.0 926.4,275.0" fill="#000"/>
<polygon points="911.9,287.0 915.4,293.6 908.4,293.6" fill="#000"/>
<polygon points="898.3,307.3 901.8,314.0 894.8,314.0" fill="#000"/>
<polygon points="911.2,329.7 914.7,336.3 907.7,336.3" fill="#000"/>
<polygon points="910.8,354.1 914.3,360.7 907.3,360.7" fill="#000"/>
<polygon points="891.7,367.4 895.2,374.1 888.2,374.1" fill="#000"/>
<polygon points="868.1,357.6 871.6,364.2 864.6,364.2" fill="#000"/>
<polygon points="851.1,338.5 854.6,345.1 847.6,345.1" fill="#000"/>
<polygon points="842.1,314.2 845.6,320.8 838.6,320.8" fill="#000"/>
<polygon points="837.5,304.2 841.0,310.9 834.0,310.9" fill="#000"/>
<polygon points="837.5,330.2 841.0,336.9 834.0,336.9" fill="#000"/>
<polygon points="836.6,355.0 840.1,361.6 833.1,361.6" fill="#000"/>
<polygon points="813.0,356.7 816.5,363.3 809.5,363.3" fill="#000"/>
<polygon points="793.8,374.2 797.3,380.9 790.3,380.9" fill="#000"/>
<polygon points="770.4,381.2 773.9,387.9 766.9,387.9" fill="#000"/>
<polygon points="746.8,371.9 750.3,378.5 743.3,378.5" fill="#000"/>
<polygon points="732.7,350.8 736.2,357.4 729.2,357.4" fill="#000"/>
<polygon points="729.0,325.1 732.5,331.7 725.5,331.7" fill="#000"/>
<polygon points="724.7,299.4 728.2,306.1 721.2,306.1" fill="#000"/>
<polygon points="716.4,274.8 719.9,281.5 712.9,281.5" fill="#000"/>
<polygon points="708.9,250.0 712.4,256.6 705.4,256.6" fill="#000"/>
<polygon points="708.0,224.0 711.5,230.6 704.5,230.6" fill="#000"/>
<polygon points="712.8,198.6 716.3,205.2 709.3,205.2" fill="#000"/>
<polygon points="724.3,175.5 727.8,182.1 720.8,182.1" fill="#000"/>
<polygon points="740.2,155.1 743.7,161.8 736.7,161.8" fill="#000"/>
<polygon points="760.8,140.1 764.3,146.8 757.3,146.8" fill="#000"/>
<polygon points="784.9,130.4 788.4,137.0 781.4,137.0" fill="#000"/>
<polygon points="809.9,123.5 813.4,130.1 806.4,130.1" fill="#000"/>
<polygon points="835.8,121.0 839.3,127.7 832.3,127.7" fill="#000"/>
<path d="M839.4,225.8 C841.2,225.5 845.1,225.6 849.9,224.1 C854.7,222.5 862.4,217.0 868.1,216.3 C873.9,215.7 880.5,217.2 884.6,220.4 C888.8,223.5 891.8,230.0 893.1,235.2 C894.4,240.4 892.7,245.7 892.5,251.6 C892.2,257.6 891.7,265.2 891.6,270.7 C891.5,276.1 891.5,280.1 891.9,284.5 C892.3,288.8 893.3,292.1 894.1,296.6 C894.9,301.0 895.6,306.9 896.5,311.0 C897.4,315.2 899.4,317.0 899.6,321.4 C899.7,325.7 898.1,332.4 897.4,336.9 C896.7,341.5 896.9,344.9 895.2,348.8 C893.6,352.7 890.8,357.3 887.6,360.6 C884.4,363.9 880.0,367.1 876.1,368.6 C872.2,370.0 869.1,371.8 864.4,369.3 C859.7,366.8 850.6,356.2 847.8,353.6 C846.3,354.3 841.4,357.6 838.5,357.8 C835.5,358.0 831.7,355.5 830.3,355.0 C829.4,357.2 827.9,364.5 824.7,367.8 C821.4,371.2 815.1,374.1 810.9,375.0 C806.8,376.0 802.7,374.7 799.9,373.8 C797.2,372.9 796.5,372.1 794.4,369.6 C792.4,367.0 788.8,363.3 787.7,358.5 C786.7,353.7 787.7,345.4 788.0,340.5 C788.4,335.7 790.3,332.9 789.6,329.5 C789.0,326.1 786.2,322.7 784.1,320.0 C782.1,317.3 779.1,316.7 777.2,313.4 C775.4,310.0 773.6,303.8 773.1,299.8 C772.6,295.9 773.3,292.7 774.3,289.7 C775.3,286.7 777.0,284.6 779.2,281.7 C781.4,278.7 785.7,275.5 787.5,271.9 C789.2,268.4 789.5,265.7 789.7,260.4 C789.9,255.2 787.7,246.3 788.6,240.4 C789.5,234.6 791.8,229.1 795.0,225.5 C798.3,221.9 803.5,219.4 808.1,218.9 C812.8,218.3 817.7,221.2 823.0,222.4 C828.2,223.5 836.7,225.2 839.4,225.8" fill="none" stroke="#ff0000" stroke-width="2.0" stroke-linejoin="round" stroke-dasharray="2 2.5"/>
<polygon points="845.4,228.8 848.9,222.2 841.9,222.2" fill="#ff0000"/>
<polygon points="865.9,221.3 869.4,214.6 862.4,214.6" fill="#ff0000"/>
<polygon points="885.9,226.6 889.4,220.0 882.4,220.0" fill="#ff0000"/>
<polygon points="892.8,246.7 896.3,240.1 889.3,240.1" fill="#ff0000"/>
<polygon points="891.8,268.7 895.3,262.0 888.3,262.0" fill="#ff0000"/>
<polygon points="892.3,290.6 895.8,284.0 888.8,284.0" fill="#ff0000"/>
<polygon points="896.1,312.3 899.6,305.7 892.6,305.7" fill="#ff0000"/>
<polygon points="898.4,333.8 901.9,327.1 894.9,327.1" fill="#ff0000"/>
<polygon points="893.8,355.1 897.3,348.4 890.3,348.4" fill="#ff0000"/>
<polygon points="878.9,370.6 882.4,364.0 875.4,364.0" fill="#ff0000"/>
<polygon points="859.4,368.5 862.9,361.9 855.9,361.9" fill="#ff0000"/>
<polygon points="842.2,360.1 845.7,353.5 838.7,353.5" fill="#ff0000"/>
<polygon points="826.6,367.5 830.1,360.9 823.1,360.9" fill="#ff0000"/>
<polygon points="809.2,378.8 812.7,372.2 805.7,372.2" fill="#ff0000"/>
<polygon points="791.4,368.6 794.9,362.0 787.9,362.0" fill="#ff0000"/>
<polygon points="788.0,347.7 791.5,341.0 784.5,341.0" fill="#ff0000"/>
<polygon points="785.8,326.8 789.3,320.2 782.3,320.2" fill="#ff0000"/>
<polygon points="774.6,308.6 778.1,301.9 771.1,301.9" fill="#ff0000"/>
<polygon points="777.8,287.9 781.3,281.2 774.3,281.2" fill="#ff0000"/>
<polygon points="788.7,269.4 792.2,262.8 785.2,262.8" fill="#ff0000"/>
<polygon points="788.8,247.6 792.3,240.9 785.3,240.9" fill="#ff0000"/>
<polygon points="797.3,228.3 800.8,221.7 793.8,221.7" fill="#ff0000"/>
<polygon points="817.8,225.1 821.3,218.5 814.3,218.5" fill="#ff0000"/>
<polygon points="839.3,229.8 842.8,223.1 835.8,223.1" fill="#ff0000"/>
<polyline points="917.7,338.9 927.5,351.2 918.0,372.0 910.4,386.6 899.0,378.0" fill="none" stroke="#000" stroke-width="2.0" stroke-linejoin="round" stroke-dasharray="2 2.5"/>
<polygon points="921.6,360.2 925.1,366.8 918.1,366.8" fill="#000"/>
<polygon points="906.5,379.6 910.0,386.3 903.0,386.3" fill="#000"/>
<polyline points="922.6,348.7 920.2,370.7 915.3,395.2 900.6,384.2 883.5,374.4" fill="none" stroke="#ff0000" stroke-width="2.0" stroke-linejoin="round" stroke-dasharray="2 2.5"/>
<polygon points="918.7,382.4 922.2,375.8 915.2,375.8" fill="#ff0000"/>
<polygon points="905.0,391.5 908.5,384.8 901.5,384.8" fill="#ff0000"/>
<path d="M836.1,122.5 C842.1,123.2 862.0,124.1 872.3,126.8 C882.6,129.5 889.5,133.8 897.7,138.6 C905.9,143.4 914.3,148.8 921.4,155.6 C928.5,162.4 934.7,170.8 940.1,179.3 C945.5,187.8 951.6,197.9 953.6,206.4 C955.6,214.9 952.8,224.8 951.9,230.1 C951.0,235.4 950.2,232.9 948.5,238.5 C946.8,244.1 946.3,256.0 941.8,263.9 C937.3,271.8 927.8,279.9 921.4,285.9 C915.0,291.8 906.9,295.2 903.4,299.6 C899.9,304.0 899.7,307.8 900.6,312.3 C901.5,316.8 906.2,321.4 909.0,326.4 C911.8,331.3 917.0,335.9 917.5,342.0 C918.0,348.1 914.9,357.7 911.8,363.1 C908.7,368.5 904.0,373.0 899.1,374.4 C894.2,375.8 887.4,373.5 882.2,371.6 C877.0,369.7 872.6,366.4 868.1,363.1 C863.6,359.8 858.7,356.0 855.4,351.8 C852.1,347.6 850.9,344.3 848.3,337.7 C845.7,331.1 841.5,317.9 839.9,312.3 C838.3,306.7 838.9,305.9 838.5,303.9 C838.1,301.9 837.7,301.1 837.5,300.5 C837.5,310.7 837.5,351.6 837.5,361.8 C836.2,361.3 833.2,359.6 829.8,359.0 C826.4,358.4 820.6,357.1 817.1,358.3 C813.6,359.5 812.1,362.9 808.6,366.1 C805.1,369.3 800.0,373.9 796.0,377.4 C792.0,380.9 790.4,385.6 784.7,387.2 C779.1,388.8 769.2,389.1 762.1,387.2 C755.0,385.3 747.5,380.7 742.3,376.0 C737.1,371.3 733.4,364.6 731.0,359.0 C728.6,353.4 729.1,348.5 728.2,342.1 C727.3,335.8 726.6,328.2 725.4,320.9 C724.2,313.6 723.1,305.2 721.2,298.3 C719.3,291.4 716.6,286.6 714.2,279.2 C711.8,271.8 708.0,263.4 706.6,253.8 C705.2,244.2 704.7,231.5 705.7,221.6 C706.7,211.7 708.8,203.2 712.5,194.5 C716.2,185.8 721.8,177.0 727.7,169.1 C733.6,161.2 739.5,153.0 748.0,147.1 C756.5,141.2 767.8,137.3 778.5,133.5 C789.2,129.7 802.8,126.0 812.4,124.2 C822.0,122.4 832.1,122.8 836.1,122.5" fill="none" stroke="#000" stroke-width="2.4" stroke-linejoin="round"/>
<rect x="832.4" y="118.8" width="7.5" height="7.5" fill="#000"/>
<rect x="862.1" y="122.3" width="7.5" height="7.5" fill="#000"/>
<rect x="889.9" y="133.0" width="7.5" height="7.5" fill="#000"/>
<rect x="914.7" y="149.7" width="7.5" height="7.5" fill="#000"/>
<rect x="934.0" y="172.6" width="7.5" height="7.5" fill="#000"/>
<rect x="948.0" y="199.0" width="7.5" height="7.5" fill="#000"/>
<rect x="947.3" y="228.3" width="7.5" height="7.5" fill="#000"/>
<rect x="938.9" y="257.1" width="7.5" height="7.5" fill="#000"/>
<rect x="919.8" y="279.8" width="7.5" height="7.5" fill="#000"/>
<rect x="898.7" y="299.9" width="7.5" height="7.5" fill="#000"/>
<rect x="907.5" y="326.8" width="7.5" height="7.5" fill="#000"/>
<rect x="909.3" y="354.7" width="7.5" height="7.5" fill="#000"/>
<rect x="887.3" y="369.3" width="7.5" height="7.5" fill="#000"/>
<rect x="860.9" y="356.3" width="7.5" height="7.5" fill="#000"/>
<rect x="844.0" y="332.3" width="7.5" height="7.5" fill="#000"/>
<rect x="835.3" y="303.6" width="7.5" height="7.5" fill="#000"/>
<rect x="833.8" y="319.7" width="7.5" height="7.5" fill="#000"/>
<rect x="833.8" y="349.7" width="7.5" height="7.5" fill="#000"/>
<rect x="812.8" y="355.1" width="7.5" height="7.5" fill="#000"/>
<rect x="790.5" y="375.1" width="7.5" height="7.5" fill="#000"/>
<rect x="763.6" y="383.4" width="7.5" height="7.5" fill="#000"/>
<rect x="737.5" y="370.6" width="7.5" height="7.5" fill="#000"/>
<rect x="725.4" y="343.8" width="7.5" height="7.5" fill="#000"/>
<rect x="721.1" y="314.1" width="7.5" height="7.5" fill="#000"/>
<rect x="714.0" y="285.1" width="7.5" height="7.5" fill="#000"/>
<rect x="704.8" y="256.6" width="7.5" height="7.5" fill="#000"/>
<rect x="702.2" y="226.8" width="7.5" height="7.5" fill="#000"/>
<rect x="707.1" y="197.5" width="7.5" height="7.5" fill="#000"/>
<rect x="720.6" y="171.0" width="7.5" height="7.5" fill="#000"/>
<rect x="739.9" y="148.1" width="7.5" height="7.5" fill="#000"/>
<rect x="765.7" y="133.8" width="7.5" height="7.5" fill="#000"/>
<rect x="794.2" y="124.4" width="7.5" height="7.5" fill="#000"/>
<rect x="823.6" y="119.4" width="7.5" height="7.5" fill="#000"/>
<path d="M839.5,223.3 C841.3,223.0 845.4,223.2 850.3,221.6 C855.2,220.0 863.1,214.6 869.0,214.0 C874.9,213.4 881.4,215.2 885.9,218.2 C890.4,221.2 894.0,227.0 896.0,231.8 C898.0,236.6 897.4,241.1 897.7,247.0 C898.0,252.9 897.6,261.4 897.7,267.3 C897.9,273.2 898.0,277.7 898.6,282.5 C899.2,287.3 900.3,291.1 901.1,296.1 C901.9,301.1 902.5,307.7 903.4,312.3 C904.2,316.9 906.2,318.9 906.2,323.6 C906.2,328.3 904.3,335.7 903.4,340.6 C902.5,345.6 902.5,349.1 900.6,353.3 C898.7,357.5 895.6,362.5 892.1,366.0 C888.6,369.5 883.9,373.5 879.4,374.4 C874.9,375.3 870.5,374.7 865.3,371.6 C860.1,368.6 851.1,358.7 848.3,356.1 C846.7,356.8 841.5,360.1 838.5,360.3 C835.5,360.5 831.4,358.0 830.0,357.5 C829.0,359.6 827.5,367.0 824.2,370.3 C820.9,373.6 814.3,376.4 810.1,377.4 C805.9,378.3 801.6,376.9 798.8,376.0 C796.0,375.1 795.2,374.3 793.1,371.7 C791.0,369.1 787.3,365.3 786.1,360.4 C784.9,355.5 785.9,347.0 786.1,342.1 C786.3,337.2 788.2,334.3 787.5,330.8 C786.8,327.3 783.9,323.7 781.8,320.9 C779.7,318.1 776.7,317.4 774.8,313.9 C772.9,310.4 771.1,303.9 770.6,299.8 C770.1,295.7 770.8,292.5 771.8,289.3 C772.8,286.1 774.5,284.0 776.8,280.9 C779.0,277.8 783.5,274.4 785.3,270.7 C787.1,267.0 787.5,264.2 787.8,258.8 C788.1,253.4 786.0,244.4 787.0,238.5 C788.0,232.6 790.4,227.0 793.8,223.3 C797.2,219.6 802.5,217.1 807.3,216.5 C812.1,215.9 817.1,218.8 822.5,219.9 C827.9,221.0 836.7,222.7 839.5,223.3" fill="none" stroke="#ff0000" stroke-width="2.4" stroke-linejoin="round"/>
<circle cx="850.4" cy="221.6" r="3.25" fill="#ff0000"/>
<circle cx="870.8" cy="214.5" r="3.25" fill="#ff0000"/>
<circle cx="889.8" cy="223.4" r="3.25" fill="#ff0000"/>
<circle cx="897.3" cy="243.3" r="3.25" fill="#ff0000"/>
<circle cx="897.7" cy="265.2" r="3.25" fill="#ff0000"/>
<circle cx="899.5" cy="287.1" r="3.25" fill="#ff0000"/>
<circle cx="902.9" cy="308.9" r="3.25" fill="#ff0000"/>
<circle cx="905.1" cy="330.4" r="3.25" fill="#ff0000"/>
<circle cx="900.9" cy="352.0" r="3.25" fill="#ff0000"/>
<circle cx="887.6" cy="369.0" r="3.25" fill="#ff0000"/>
<circle cx="867.5" cy="372.0" r="3.25" fill="#ff0000"/>
<circle cx="850.7" cy="358.3" r="3.25" fill="#ff0000"/>
<circle cx="830.8" cy="357.8" r="3.25" fill="#ff0000"/>
<circle cx="817.9" cy="373.5" r="3.25" fill="#ff0000"/>
<circle cx="797.3" cy="374.8" r="3.25" fill="#ff0000"/>
<circle cx="786.1" cy="356.9" r="3.25" fill="#ff0000"/>
<circle cx="787.0" cy="335.0" r="3.25" fill="#ff0000"/>
<circle cx="777.3" cy="316.4" r="3.25" fill="#ff0000"/>
<circle cx="771.0" cy="296.1" r="3.25" fill="#ff0000"/>
<circle cx="780.3" cy="276.7" r="3.25" fill="#ff0000"/>
<circle cx="787.7" cy="256.8" r="3.25" fill="#ff0000"/>
<circle cx="788.5" cy="235.2" r="3.25" fill="#ff0000"/>
<circle cx="801.8" cy="219.2" r="3.25" fill="#ff0000"/>
<circle cx="822.8" cy="220.0" r="3.25" fill="#ff0000"/>
<circle cx="837.5" cy="300.3" r="178.7" fill="none" stroke="#000" stroke-width="1.8"/>
<line x1="837.50" y1="121.60" x2="837.50" y2="128.10" stroke="#000" stroke-width="1.8"/>
<line x1="883.75" y1="127.69" x2="882.85" y2="131.07" stroke="#000" stroke-width="1.8"/>
<line x1="926.85" y1="145.54" x2="923.60" y2="151.17" stroke="#000" stroke-width="1.8"/>
<line x1="963.86" y1="173.94" x2="961.39" y2="176.41" stroke="#000" stroke-width="1.8"/>
<line x1="992.26" y1="210.95" x2="986.63" y2="214.20" stroke="#000" stroke-width="1.8"/>
<line x1="1010.11" y1="254.05" x2="1006.73" y2="254.95" stroke="#000" stroke-width="1.8"/>
<line x1="1016.20" y1="300.30" x2="1009.70" y2="300.30" stroke="#000" stroke-width="1.8"/>
<line x1="1010.11" y1="346.55" x2="1006.73" y2="345.65" stroke="#000" stroke-width="1.8"/>
<line x1="992.26" y1="389.65" x2="986.63" y2="386.40" stroke="#000" stroke-width="1.8"/>
<line x1="963.86" y1="426.66" x2="961.39" y2="424.19" stroke="#000" stroke-width="1.8"/>
<line x1="926.85" y1="455.06" x2="923.60" y2="449.43" stroke="#000" stroke-width="1.8"/>
<line x1="883.75" y1="472.91" x2="882.85" y2="469.53" stroke="#000" stroke-width="1.8"/>
<line x1="837.50" y1="479.00" x2="837.50" y2="472.50" stroke="#000" stroke-width="1.8"/>
<line x1="791.25" y1="472.91" x2="792.15" y2="469.53" stroke="#000" stroke-width="1.8"/>
<line x1="748.15" y1="455.06" x2="751.40" y2="449.43" stroke="#000" stroke-width="1.8"/>
<line x1="711.14" y1="426.66" x2="713.61" y2="424.19" stroke="#000" stroke-width="1.8"/>
<line x1="682.74" y1="389.65" x2="688.37" y2="386.40" stroke="#000" stroke-width="1.8"/>
<line x1="664.89" y1="346.55" x2="668.27" y2="345.65" stroke="#000" stroke-width="1.8"/>
<line x1="658.80" y1="300.30" x2="665.30" y2="300.30" stroke="#000" stroke-width="1.8"/>
<line x1="664.89" y1="254.05" x2="668.27" y2="254.95" stroke="#000" stroke-width="1.8"/>
<line x1="682.74" y1="210.95" x2="688.37" y2="214.20" stroke="#000" stroke-width="1.8"/>
<line x1="711.14" y1="173.94" x2="713.61" y2="176.41" stroke="#000" stroke-width="1.8"/>
<line x1="748.15" y1="145.54" x2="751.40" y2="151.17" stroke="#000" stroke-width="1.8"/>
<line x1="791.25" y1="127.69" x2="792.15" y2="131.07" stroke="#000" stroke-width="1.8"/>
<text transform="translate(829.62,98.51) scale(1.1631,1)" font-family="'Liberation Serif', serif" font-weight="bold" font-size="29.33" fill="#000">0</text>
<text transform="translate(704.61,128.90) scale(1.1605,1)" font-family="'Liberation Serif', serif" font-weight="bold" font-size="29.63" fill="#000">330</text>
<text transform="translate(916.35,128.20) scale(1.2114,1)" font-family="'Liberation Serif', serif" font-weight="bold" font-size="29.63" fill="#000">30</text>
<text transform="translate(627.93,205.58) scale(1.0697,1)" font-family="'Liberation Serif', serif" font-weight="bold" font-size="31.56" fill="#000">300</text>
<text transform="translate(994.45,205.58) scale(1.1344,1)" font-family="'Liberation Serif', serif" font-weight="bold" font-size="31.56" fill="#000">60</text>
<text transform="translate(599.62,310.48) scale(1.0750,1)" font-family="'Liberation Serif', serif" font-weight="bold" font-size="32.30" fill="#000">270</text>
<text transform="translate(1025.00,310.67) scale(1.0009,1)" font-family="'Liberation Serif', serif" font-weight="bold" font-size="32.59" fill="#000">90</text>
<text transform="translate(626.80,414.18) scale(1.0924,1)" font-family="'Liberation Serif', serif" font-weight="bold" font-size="32.30" fill="#000">240</text>
<text transform="translate(995.86,414.18) scale(1.0235,1)" font-family="'Liberation Serif', serif" font-weight="bold" font-size="32.30" fill="#000">120</text>
<text transform="translate(705.27,490.38) scale(1.0445,1)" font-family="'Liberation Serif', serif" font-weight="bold" font-size="32.30" fill="#000">210</text>
<text transform="translate(917.33,490.38) scale(1.0728,1)" font-family="'Liberation Serif', serif" font-weight="bold" font-size="32.30" fill="#000">150</text>
<text transform="translate(811.09,515.68) scale(1.0885,1)" font-family="'Liberation Serif', serif" font-weight="bold" font-size="32.30" fill="#000">180</text>
<path d="M348.7,611.1 C354.6,612.0 373.2,613.0 384.2,616.4 C395.3,619.7 406.1,626.5 415.0,631.0 C423.9,635.5 430.6,638.1 437.5,643.3 C444.5,648.5 451.1,654.6 456.5,662.4 C461.9,670.3 467.7,680.8 470.2,690.4 C472.6,700.0 472.1,711.4 471.5,720.1 C470.9,728.8 468.4,736.1 466.6,742.4 C464.9,748.6 463.7,752.4 460.9,757.6 C458.2,762.8 454.0,768.7 450.1,773.4 C446.3,778.1 440.1,782.9 437.6,785.6 C435.1,788.4 435.9,786.6 435.0,789.8 C434.1,793.1 431.9,799.8 432.3,805.2 C432.8,810.5 436.6,815.9 437.7,821.9 C438.9,827.9 439.6,834.7 439.2,841.2 C438.9,847.6 439.0,855.7 435.6,860.6 C432.1,865.6 425.4,869.6 418.7,870.8 C412.0,872.0 403.3,872.8 395.3,867.9 C387.3,863.1 374.8,845.9 370.7,841.5 C369.0,842.1 364.0,844.0 360.6,845.2 C357.3,846.5 352.2,848.5 350.5,849.2 C349.7,844.8 346.4,828.1 345.6,822.8 C344.8,817.6 345.6,818.5 345.6,817.6 C345.0,819.5 344.0,824.8 342.0,828.7 C340.0,832.5 336.1,836.7 333.7,841.0 C331.3,845.3 330.8,850.6 327.6,854.4 C324.4,858.3 318.3,861.9 314.5,864.3 C310.7,866.8 309.6,868.9 304.8,869.3 C300.0,869.8 290.8,869.5 285.6,867.2 C280.4,864.8 275.9,858.6 273.7,855.2 C271.5,851.8 273.2,850.2 272.6,846.8 C272.0,843.4 270.7,836.8 270.3,834.8 C271.7,833.6 276.9,829.6 278.9,827.5 C281.0,825.5 280.4,825.3 282.7,822.7 C284.9,820.1 290.2,814.7 292.4,811.9 C294.7,809.1 294.1,808.4 296.2,806.0 C298.3,803.6 303.4,799.1 304.9,797.7 C302.6,797.3 295.1,796.8 291.4,795.5 C287.7,794.1 285.4,792.4 282.9,789.6 C280.4,786.9 278.7,782.0 276.7,779.0 C274.6,776.0 273.6,775.3 270.5,771.8 C267.4,768.2 262.0,763.0 258.2,757.7 C254.3,752.5 250.4,745.1 247.3,740.1 C244.3,735.1 241.3,735.1 240.1,727.7 C238.8,720.4 238.4,705.7 239.8,696.0 C241.2,686.3 244.1,678.1 248.5,669.5 C252.9,661.0 258.6,651.7 265.9,644.7 C273.3,637.6 282.9,631.9 292.3,627.1 C301.7,622.2 312.9,618.1 322.3,615.5 C331.7,612.8 344.3,611.8 348.7,611.1" fill="none" stroke="#000" stroke-width="2.0" stroke-linejoin="round" stroke-dasharray="2 2.5"/>
<polygon points="356.6,608.3 360.1,614.9 353.1,614.9" fill="#000"/>
<polygon points="382.3,612.1 385.8,618.7 378.8,618.7" fill="#000"/>
<polygon points="406.0,622.7 409.5,629.4 402.5,629.4" fill="#000"/>
<polygon points="429.1,634.7 432.6,641.3 425.6,641.3" fill="#000"/>
<polygon points="449.0,650.9 452.5,657.6 445.5,657.6" fill="#000"/>
<polygon points="463.3,672.3 466.8,678.9 459.8,678.9" fill="#000"/>
<polygon points="470.6,696.7 474.1,703.3 467.1,703.3" fill="#000"/>
<polygon points="470.1,722.5 473.6,729.2 466.6,729.2" fill="#000"/>
<polygon points="463.2,747.5 466.7,754.2 459.7,754.2" fill="#000"/>
<polygon points="449.9,769.7 453.4,776.3 446.4,776.3" fill="#000"/>
<polygon points="434.3,789.7 437.8,796.4 430.8,796.4" fill="#000"/>
<polygon points="436.8,814.8 440.3,821.5 433.3,821.5" fill="#000"/>
<polygon points="438.6,840.6 442.1,847.2 435.1,847.2" fill="#000"/>
<polygon points="427.3,861.6 430.8,868.3 423.8,868.3" fill="#000"/>
<polygon points="402.9,864.9 406.4,871.5 399.4,871.5" fill="#000"/>
<polygon points="382.8,850.5 386.3,857.1 379.3,857.1" fill="#000"/>
<polygon points="362.9,840.4 366.4,847.0 359.4,847.0" fill="#000"/>
<polygon points="348.2,832.8 351.7,839.4 344.7,839.4" fill="#000"/>
<polygon points="343.5,819.9 347.0,826.6 340.0,826.6" fill="#000"/>
<polygon points="331.2,842.6 334.7,849.2 327.7,849.2" fill="#000"/>
<polygon points="313.7,860.8 317.2,867.4 310.2,867.4" fill="#000"/>
<polygon points="288.9,863.6 292.4,870.2 285.4,870.2" fill="#000"/>
<polygon points="273.0,845.4 276.5,852.1 269.5,852.1" fill="#000"/>
<polygon points="278.8,823.6 282.3,830.3 275.3,830.3" fill="#000"/>
<polygon points="295.2,803.6 298.7,810.2 291.7,810.2" fill="#000"/>
<polygon points="292.9,791.7 296.4,798.4 289.4,798.4" fill="#000"/>
<polygon points="275.5,773.6 279.0,780.2 272.0,780.2" fill="#000"/>
<polygon points="258.4,754.0 261.9,760.6 254.9,760.6" fill="#000"/>
<polygon points="244.8,731.8 248.3,738.5 241.3,738.5" fill="#000"/>
<polygon points="239.9,707.1 243.4,713.7 236.4,713.7" fill="#000"/>
<polygon points="243.2,681.6 246.7,688.3 239.7,688.3" fill="#000"/>
<polygon points="253.7,658.1 257.2,664.8 250.2,664.8" fill="#000"/>
<polygon points="269.8,638.1 273.3,644.7 266.3,644.7" fill="#000"/>
<polygon points="291.5,623.6 295.0,630.3 288.0,630.3" fill="#000"/>
<polygon points="315.6,614.1 319.1,620.7 312.1,620.7" fill="#000"/>
<polygon points="340.9,608.4 344.4,615.1 337.4,615.1" fill="#000"/>
<path d="M359.2,709.4 C363.0,708.5 376.2,703.3 382.0,703.8 C387.9,704.4 391.0,708.6 394.2,712.7 C397.3,716.8 399.6,722.6 401.0,728.4 C402.4,734.3 401.9,740.8 402.4,747.8 C402.8,754.7 402.6,765.1 403.8,770.3 C404.9,775.5 407.4,775.0 409.0,778.9 C410.7,782.8 412.9,789.0 413.9,793.6 C414.9,798.1 413.9,802.7 415.3,806.3 C416.6,809.9 420.8,813.8 421.9,815.3 C420.9,817.4 417.2,823.6 415.5,828.1 C413.9,832.5 414.0,837.9 411.9,842.2 C409.8,846.5 405.9,850.9 402.9,853.7 C399.9,856.5 395.4,857.9 393.9,858.8 C392.4,857.5 388.5,851.8 384.8,850.8 C381.2,849.9 374.2,852.8 372.1,853.2 C369.9,850.6 362.5,841.3 359.3,837.3 C356.1,833.4 354.7,836.9 353.0,829.4 C351.3,821.9 349.8,798.6 349.2,792.4 C349.3,798.9 349.9,824.7 350.1,831.1 C350.1,829.7 350.3,828.8 350.1,822.5 C349.9,816.2 349.0,798.1 348.8,793.2 C348.7,793.4 349.7,791.0 348.4,794.5 C347.1,798.0 343.6,808.4 341.2,814.2 C338.7,819.9 337.4,824.5 334.0,828.8 C330.6,833.1 325.1,838.3 320.8,840.0 C316.4,841.7 312.2,839.7 307.6,839.0 C303.1,838.3 297.1,837.5 293.3,835.7 C289.6,834.0 287.6,830.0 285.0,828.6 C282.3,827.3 278.9,827.7 277.7,827.6 C277.3,825.8 275.5,820.8 275.4,816.9 C275.2,812.9 276.2,808.5 276.7,803.8 C277.1,799.0 277.5,791.7 278.0,788.4 C278.5,785.1 278.8,787.5 279.7,783.9 C280.5,780.3 281.1,771.0 283.2,766.7 C285.2,762.4 290.2,761.9 291.9,758.1 C293.6,754.4 292.9,749.4 293.4,744.2 C293.9,738.9 293.0,731.8 294.9,726.6 C296.9,721.3 300.9,715.6 305.2,712.7 C309.6,709.8 315.7,708.9 320.9,709.3 C326.2,709.6 330.2,714.6 336.6,714.7 C343.0,714.7 355.4,710.3 359.2,709.4" fill="none" stroke="#ff0000" stroke-width="2.0" stroke-linejoin="round" stroke-dasharray="2 2.5"/>
<polygon points="365.0,712.0 368.5,705.3 361.5,705.3" fill="#ff0000"/>
<polygon points="385.7,710.5 389.2,703.8 382.2,703.8" fill="#ff0000"/>
<polygon points="398.8,727.2 402.3,720.6 395.3,720.6" fill="#ff0000"/>
<polygon points="402.1,748.7 405.6,742.1 398.6,742.1" fill="#ff0000"/>
<polygon points="403.5,770.7 407.0,764.0 400.0,764.0" fill="#ff0000"/>
<polygon points="411.7,790.7 415.2,784.1 408.2,784.1" fill="#ff0000"/>
<polygon points="416.5,811.9 420.0,805.3 413.0,805.3" fill="#ff0000"/>
<polygon points="416.2,830.7 419.7,824.1 412.7,824.1" fill="#ff0000"/>
<polygon points="408.2,850.9 411.7,844.2 404.7,844.2" fill="#ff0000"/>
<polygon points="391.7,860.8 395.2,854.1 388.2,854.1" fill="#ff0000"/>
<polygon points="372.1,857.2 375.6,850.6 368.6,850.6" fill="#ff0000"/>
<polygon points="358.3,840.1 361.8,833.5 354.8,833.5" fill="#ff0000"/>
<polygon points="351.6,820.0 355.1,813.4 348.1,813.4" fill="#ff0000"/>
<polygon points="349.4,798.2 352.9,791.5 345.9,791.5" fill="#ff0000"/>
<polygon points="349.7,816.6 353.2,810.0 346.2,810.0" fill="#ff0000"/>
<polygon points="350.1,831.6 353.6,824.9 346.6,824.9" fill="#ff0000"/>
<polygon points="349.3,809.6 352.8,802.9 345.8,802.9" fill="#ff0000"/>
<polygon points="345.6,806.2 349.1,799.6 342.1,799.6" fill="#ff0000"/>
<polygon points="337.1,826.5 340.6,819.8 333.6,819.8" fill="#ff0000"/>
<polygon points="322.6,842.5 326.1,835.8 319.1,835.8" fill="#ff0000"/>
<polygon points="301.3,841.6 304.8,834.9 297.8,834.9" fill="#ff0000"/>
<polygon points="282.2,832.2 285.7,825.6 278.7,825.6" fill="#ff0000"/>
<polygon points="276.0,814.3 279.5,807.7 272.5,807.7" fill="#ff0000"/>
<polygon points="278.0,792.4 281.5,785.8 274.5,785.8" fill="#ff0000"/>
<polygon points="283.1,771.1 286.6,764.4 279.6,764.4" fill="#ff0000"/>
<polygon points="292.9,752.8 296.4,746.1 289.4,746.1" fill="#ff0000"/>
<polygon points="294.9,730.9 298.4,724.2 291.4,724.2" fill="#ff0000"/>
<polygon points="309.5,715.7 313.0,709.1 306.0,709.1" fill="#ff0000"/>
<polygon points="330.7,716.6 334.2,710.0 327.2,710.0" fill="#ff0000"/>
<polygon points="351.9,715.1 355.4,708.4 348.4,708.4" fill="#ff0000"/>
<polyline points="441.7,825.9 451.3,849.4 446.4,865.8 432.3,887.0 418.1,872.9" fill="none" stroke="#000" stroke-width="2.0" stroke-linejoin="round" stroke-dasharray="2 2.5"/>
<polygon points="450.0,849.8 453.5,856.5 446.5,856.5" fill="#000"/>
<polygon points="436.7,876.4 440.2,883.0 433.2,883.0" fill="#000"/>
<polyline points="434.6,840.0 437.0,861.1 427.6,882.3 413.4,872.9" fill="none" stroke="#ff0000" stroke-width="2.0" stroke-linejoin="round" stroke-dasharray="2 2.5"/>
<polygon points="433.4,873.1 436.9,866.5 429.9,866.5" fill="#ff0000"/>
<polygon points="414.6,877.7 418.1,871.0 411.1,871.0" fill="#ff0000"/>
<path d="M348.7,608.6 C354.7,609.5 373.3,610.9 384.7,613.9 C396.1,616.9 407.7,622.2 416.9,626.4 C426.1,630.6 433.0,633.6 440.1,639.0 C447.2,644.4 454.1,650.6 459.7,658.6 C465.3,666.6 471.3,677.4 474.0,687.2 C476.7,697.0 476.4,708.7 475.8,717.6 C475.2,726.5 472.6,734.2 470.5,740.8 C468.4,747.3 466.3,751.5 463.3,756.9 C460.3,762.3 456.5,768.2 452.6,773.0 C448.7,777.8 442.6,782.7 440.1,785.5 C437.6,788.3 438.4,786.4 437.5,789.8 C436.6,793.1 434.4,800.1 434.8,805.6 C435.2,811.1 439.0,816.6 440.1,822.7 C441.2,828.8 441.8,835.8 441.4,842.4 C441.0,849.0 441.0,857.2 437.5,862.2 C434.0,867.2 427.1,871.4 420.3,872.7 C413.5,874.0 404.7,874.9 396.6,870.1 C388.5,865.3 375.8,848.2 371.6,843.8 C369.9,844.4 364.6,846.4 361.1,847.7 C357.6,849.0 352.3,851.0 350.5,851.7 C349.6,847.3 346.2,830.6 345.3,825.3 C344.4,820.0 345.2,821.0 345.2,820.1 C344.6,821.9 343.6,827.2 341.5,831.1 C339.4,835.0 335.3,839.1 332.9,843.4 C330.4,847.7 330.1,852.9 326.8,856.8 C323.6,860.7 317.3,864.1 313.4,866.6 C309.5,869.1 308.5,871.1 303.6,871.5 C298.7,871.9 289.3,871.6 284.0,869.1 C278.7,866.6 274.0,860.3 271.8,856.8 C269.6,853.3 271.2,851.8 270.6,848.3 C270.0,844.8 268.5,838.0 268.1,836.0 C269.5,834.8 274.6,830.7 276.7,828.7 C278.8,826.7 278.2,826.4 280.4,823.8 C282.6,821.1 287.9,815.6 290.1,812.8 C292.3,809.9 291.8,809.2 293.8,806.7 C295.9,804.2 301.0,799.5 302.4,798.1 C300.1,797.7 292.6,797.1 288.9,795.7 C285.2,794.3 282.8,792.5 280.4,789.6 C277.9,786.8 276.2,781.7 274.2,778.6 C272.1,775.5 271.2,774.8 268.1,771.2 C265.0,767.6 259.6,762.3 255.8,756.9 C252.0,751.5 248.1,744.1 245.1,739.0 C242.1,733.9 239.1,733.9 237.9,726.5 C236.7,719.1 236.4,704.2 237.9,694.4 C239.4,684.6 242.4,676.2 246.9,667.6 C251.4,659.0 257.3,649.6 264.7,642.5 C272.1,635.4 282.0,629.6 291.5,624.7 C301.0,619.8 312.4,615.7 321.9,613.0 C331.4,610.3 344.2,609.3 348.7,608.6" fill="none" stroke="#000" stroke-width="2.4" stroke-linejoin="round"/>
<rect x="344.9" y="604.9" width="7.5" height="7.5" fill="#000"/>
<rect x="374.6" y="609.2" width="7.5" height="7.5" fill="#000"/>
<rect x="403.0" y="618.7" width="7.5" height="7.5" fill="#000"/>
<rect x="429.9" y="631.8" width="7.5" height="7.5" fill="#000"/>
<rect x="452.4" y="651.3" width="7.5" height="7.5" fill="#000"/>
<rect x="467.1" y="677.2" width="7.5" height="7.5" fill="#000"/>
<rect x="471.6" y="706.4" width="7.5" height="7.5" fill="#000"/>
<rect x="467.0" y="735.8" width="7.5" height="7.5" fill="#000"/>
<rect x="453.4" y="762.4" width="7.5" height="7.5" fill="#000"/>
<rect x="434.2" y="785.2" width="7.5" height="7.5" fill="#000"/>
<rect x="434.9" y="814.3" width="7.5" height="7.5" fill="#000"/>
<rect x="436.6" y="843.9" width="7.5" height="7.5" fill="#000"/>
<rect x="420.8" y="866.4" width="7.5" height="7.5" fill="#000"/>
<rect x="392.0" y="865.5" width="7.5" height="7.5" fill="#000"/>
<rect x="371.4" y="843.7" width="7.5" height="7.5" fill="#000"/>
<rect x="346.3" y="845.6" width="7.5" height="7.5" fill="#000"/>
<rect x="341.4" y="816.6" width="7.5" height="7.5" fill="#000"/>
<rect x="327.6" y="843.0" width="7.5" height="7.5" fill="#000"/>
<rect x="307.6" y="863.9" width="7.5" height="7.5" fill="#000"/>
<rect x="279.1" y="864.2" width="7.5" height="7.5" fill="#000"/>
<rect x="265.7" y="838.9" width="7.5" height="7.5" fill="#000"/>
<rect x="280.5" y="815.7" width="7.5" height="7.5" fill="#000"/>
<rect x="296.9" y="794.0" width="7.5" height="7.5" fill="#000"/>
<rect x="272.9" y="779.2" width="7.5" height="7.5" fill="#000"/>
<rect x="254.3" y="755.8" width="7.5" height="7.5" fill="#000"/>
<rect x="238.5" y="730.3" width="7.5" height="7.5" fill="#000"/>
<rect x="234.2" y="701.5" width="7.5" height="7.5" fill="#000"/>
<rect x="240.3" y="672.5" width="7.5" height="7.5" fill="#000"/>
<rect x="255.2" y="646.8" width="7.5" height="7.5" fill="#000"/>
<rect x="277.7" y="627.6" width="7.5" height="7.5" fill="#000"/>
<rect x="304.5" y="614.5" width="7.5" height="7.5" fill="#000"/>
<rect x="333.3" y="606.8" width="7.5" height="7.5" fill="#000"/>
<path d="M359.5,706.9 C363.4,706.0 376.9,700.9 382.9,701.5 C388.9,702.1 392.1,706.3 395.4,710.5 C398.7,714.7 401.1,720.5 402.6,726.5 C404.1,732.5 403.7,739.1 404.3,746.2 C404.9,753.4 404.9,764.0 406.1,769.4 C407.3,774.8 409.8,774.3 411.5,778.4 C413.2,782.5 415.4,789.0 416.4,793.7 C417.4,798.5 416.4,803.2 417.7,806.9 C419.0,810.6 423.2,814.6 424.3,816.1 C423.2,818.3 419.4,824.7 417.7,829.3 C415.9,833.9 416.0,839.4 413.8,843.8 C411.6,848.2 407.6,852.8 404.5,855.6 C401.4,858.5 396.8,860.0 395.3,860.9 C393.8,859.6 389.8,853.9 386.1,853.0 C382.4,852.1 375.1,855.2 372.9,855.6 C370.7,853.0 363.1,843.8 359.8,839.8 C356.5,835.8 355.0,839.8 353.2,831.9 C351.4,824.0 349.9,799.0 349.2,792.4 C349.4,799.3 350.0,826.7 350.1,833.6 C350.1,832.2 350.3,831.7 350.1,825.0 C349.9,818.3 349.0,798.5 348.8,793.2 C348.6,793.8 349.0,793.0 347.6,796.9 C346.2,800.8 342.7,810.8 340.3,816.5 C337.9,822.2 336.5,826.8 333.0,831.1 C329.5,835.4 324.0,840.6 319.5,842.2 C315.0,843.8 310.7,841.7 306.0,840.9 C301.3,840.1 295.3,839.1 291.4,837.3 C287.5,835.5 285.4,831.3 282.8,829.9 C280.2,828.5 276.7,828.9 275.5,828.7 C275.1,826.9 273.2,821.8 273.0,817.7 C272.8,813.6 273.8,809.1 274.2,804.2 C274.6,799.3 275.0,791.7 275.5,788.3 C276.0,784.9 276.3,787.4 277.2,783.7 C278.1,780.0 278.7,770.4 280.8,765.9 C282.9,761.4 287.9,760.8 289.7,756.9 C291.5,753.0 290.9,748.0 291.5,742.6 C292.1,737.2 291.2,730.1 293.3,724.7 C295.4,719.4 299.5,713.5 304.0,710.5 C308.5,707.5 314.7,706.6 320.1,706.9 C325.5,707.2 329.6,712.2 336.2,712.2 C342.8,712.2 355.6,707.8 359.5,706.9" fill="none" stroke="#ff0000" stroke-width="2.4" stroke-linejoin="round"/>
<circle cx="370.2" cy="704.4" r="3.25" fill="#ff0000"/>
<circle cx="390.2" cy="706.7" r="3.25" fill="#ff0000"/>
<circle cx="401.8" cy="724.7" r="3.25" fill="#ff0000"/>
<circle cx="404.3" cy="746.5" r="3.25" fill="#ff0000"/>
<circle cx="406.0" cy="768.4" r="3.25" fill="#ff0000"/>
<circle cx="414.7" cy="788.4" r="3.25" fill="#ff0000"/>
<circle cx="419.5" cy="809.5" r="3.25" fill="#ff0000"/>
<circle cx="418.1" cy="828.5" r="3.25" fill="#ff0000"/>
<circle cx="410.0" cy="848.6" r="3.25" fill="#ff0000"/>
<circle cx="393.5" cy="859.3" r="3.25" fill="#ff0000"/>
<circle cx="374.0" cy="855.4" r="3.25" fill="#ff0000"/>
<circle cx="359.6" cy="839.5" r="3.25" fill="#ff0000"/>
<circle cx="352.0" cy="819.9" r="3.25" fill="#ff0000"/>
<circle cx="349.8" cy="798.0" r="3.25" fill="#ff0000"/>
<circle cx="349.6" cy="808.7" r="3.25" fill="#ff0000"/>
<circle cx="350.0" cy="830.7" r="3.25" fill="#ff0000"/>
<circle cx="349.7" cy="814.5" r="3.25" fill="#ff0000"/>
<circle cx="348.6" cy="793.9" r="3.25" fill="#ff0000"/>
<circle cx="341.0" cy="814.5" r="3.25" fill="#ff0000"/>
<circle cx="330.2" cy="833.4" r="3.25" fill="#ff0000"/>
<circle cx="311.4" cy="841.4" r="3.25" fill="#ff0000"/>
<circle cx="290.3" cy="836.3" r="3.25" fill="#ff0000"/>
<circle cx="274.4" cy="824.1" r="3.25" fill="#ff0000"/>
<circle cx="274.4" cy="802.3" r="3.25" fill="#ff0000"/>
<circle cx="277.8" cy="780.7" r="3.25" fill="#ff0000"/>
<circle cx="285.6" cy="761.0" r="3.25" fill="#ff0000"/>
<circle cx="291.7" cy="740.8" r="3.25" fill="#ff0000"/>
<circle cx="296.8" cy="720.0" r="3.25" fill="#ff0000"/>
<circle cx="313.8" cy="708.3" r="3.25" fill="#ff0000"/>
<circle cx="334.9" cy="711.8" r="3.25" fill="#ff0000"/>
<circle cx="356.3" cy="707.6" r="3.25" fill="#ff0000"/>
<circle cx="349.8" cy="790.4" r="181.6" fill="none" stroke="#000" stroke-width="1.8"/>
<line x1="349.80" y1="608.80" x2="349.80" y2="615.30" stroke="#000" stroke-width="1.8"/>
<line x1="396.80" y1="614.99" x2="395.90" y2="618.37" stroke="#000" stroke-width="1.8"/>
<line x1="440.60" y1="633.13" x2="437.35" y2="638.76" stroke="#000" stroke-width="1.8"/>
<line x1="478.21" y1="661.99" x2="475.74" y2="664.46" stroke="#000" stroke-width="1.8"/>
<line x1="507.07" y1="699.60" x2="501.44" y2="702.85" stroke="#000" stroke-width="1.8"/>
<line x1="525.21" y1="743.40" x2="521.83" y2="744.30" stroke="#000" stroke-width="1.8"/>
<line x1="531.40" y1="790.40" x2="524.90" y2="790.40" stroke="#000" stroke-width="1.8"/>
<line x1="525.21" y1="837.40" x2="521.83" y2="836.50" stroke="#000" stroke-width="1.8"/>
<line x1="507.07" y1="881.20" x2="501.44" y2="877.95" stroke="#000" stroke-width="1.8"/>
<line x1="478.21" y1="918.81" x2="475.74" y2="916.34" stroke="#000" stroke-width="1.8"/>
<line x1="440.60" y1="947.67" x2="437.35" y2="942.04" stroke="#000" stroke-width="1.8"/>
<line x1="396.80" y1="965.81" x2="395.90" y2="962.43" stroke="#000" stroke-width="1.8"/>
<line x1="349.80" y1="972.00" x2="349.80" y2="965.50" stroke="#000" stroke-width="1.8"/>
<line x1="302.80" y1="965.81" x2="303.70" y2="962.43" stroke="#000" stroke-width="1.8"/>
<line x1="259.00" y1="947.67" x2="262.25" y2="942.04" stroke="#000" stroke-width="1.8"/>
<line x1="221.39" y1="918.81" x2="223.86" y2="916.34" stroke="#000" stroke-width="1.8"/>
<line x1="192.53" y1="881.20" x2="198.16" y2="877.95" stroke="#000" stroke-width="1.8"/>
<line x1="174.39" y1="837.40" x2="177.77" y2="836.50" stroke="#000" stroke-width="1.8"/>
<line x1="168.20" y1="790.40" x2="174.70" y2="790.40" stroke="#000" stroke-width="1.8"/>
<line x1="174.39" y1="743.40" x2="177.77" y2="744.30" stroke="#000" stroke-width="1.8"/>
<line x1="192.53" y1="699.60" x2="198.16" y2="702.85" stroke="#000" stroke-width="1.8"/>
<line x1="221.39" y1="661.99" x2="223.86" y2="664.46" stroke="#000" stroke-width="1.8"/>
<line x1="259.00" y1="633.13" x2="262.25" y2="638.76" stroke="#000" stroke-width="1.8"/>
<line x1="302.80" y1="614.99" x2="303.70" y2="618.37" stroke="#000" stroke-width="1.8"/>
<text transform="translate(341.62,585.91) scale(1.1871,1)" font-family="'Liberation Serif', serif" font-weight="bold" font-size="28.74" fill="#000">0</text>
<text transform="translate(215.23,617.48) scale(1.0543,1)" font-family="'Liberation Serif', serif" font-weight="bold" font-size="32.15" fill="#000">330</text>
<text transform="translate(430.62,617.17) scale(1.0249,1)" font-family="'Liberation Serif', serif" font-weight="bold" font-size="33.33" fill="#000">30</text>
<text transform="translate(137.13,695.17) scale(1.0123,1)" font-family="'Liberation Serif', serif" font-weight="bold" font-size="33.48" fill="#000">300</text>
<text transform="translate(509.71,695.17) scale(1.0176,1)" font-family="'Liberation Serif', serif" font-weight="bold" font-size="33.48" fill="#000">60</text>
<text transform="translate(108.42,800.47) scale(1.0390,1)" font-family="'Liberation Serif', serif" font-weight="bold" font-size="33.48" fill="#000">270</text>
<text transform="translate(539.39,800.46) scale(0.9847,1)" font-family="'Liberation Serif', serif" font-weight="bold" font-size="33.78" fill="#000">90</text>
<text transform="translate(136.95,906.48) scale(1.0580,1)" font-family="'Liberation Serif', serif" font-weight="bold" font-size="32.15" fill="#000">240</text>
<text transform="translate(508.02,906.48) scale(1.1182,1)" font-family="'Liberation Serif', serif" font-weight="bold" font-size="32.15" fill="#000">120</text>
<text transform="translate(216.91,984.17) scale(0.9780,1)" font-family="'Liberation Serif', serif" font-weight="bold" font-size="33.48" fill="#000">210</text>
<text transform="translate(431.35,984.17) scale(1.0262,1)" font-family="'Liberation Serif', serif" font-weight="bold" font-size="33.48" fill="#000">150</text>
<text transform="translate(323.37,1008.48) scale(1.1157,1)" font-family="'Liberation Serif', serif" font-weight="bold" font-size="31.70" fill="#000">180</text>
<path d="M847.1,611.1 C851.8,612.1 865.9,613.2 875.2,617.1 C884.4,621.1 894.9,628.2 902.6,634.7 C910.3,641.1 917.0,647.0 921.5,655.8 C926.0,664.6 929.6,676.3 929.7,687.4 C929.8,698.6 924.2,712.9 922.0,722.6 C919.8,732.3 917.4,741.8 916.4,745.7 C917.6,746.1 919.8,747.2 923.4,748.4 C926.9,749.6 933.9,749.7 937.9,753.0 C942.0,756.4 946.2,763.0 947.6,768.5 C949.0,774.1 947.7,781.1 946.3,786.5 C944.9,791.8 942.7,796.2 939.0,800.7 C935.4,805.2 929.9,811.0 924.4,813.8 C919.0,816.5 911.3,816.6 906.3,817.1 C901.3,817.7 898.9,818.0 894.2,816.9 C889.6,815.8 881.1,811.7 878.4,810.6 C878.9,812.4 880.0,818.0 881.1,821.4 C882.1,824.8 884.4,826.6 884.9,831.0 C885.4,835.4 884.1,845.1 883.9,847.9 C881.8,848.5 875.3,851.4 870.9,851.4 C866.6,851.3 861.8,849.1 857.9,847.6 C853.9,846.2 850.6,844.7 847.3,842.7 C844.0,840.7 841.3,836.8 838.2,835.8 C835.2,834.9 832.8,836.3 828.8,837.1 C824.9,838.0 818.8,841.0 814.7,841.0 C810.5,841.1 805.8,838.2 804.0,837.6 C804.6,836.6 806.2,834.5 807.6,831.5 C809.1,828.5 812.0,822.6 812.7,819.4 C813.4,816.2 812.7,814.2 811.7,812.3 C810.8,810.4 811.4,808.2 807.0,807.7 C802.6,807.2 790.4,810.3 785.1,809.2 C779.9,808.1 778.7,802.8 775.4,801.1 C772.2,799.3 768.3,801.1 765.7,798.7 C763.0,796.3 760.8,791.2 759.6,786.9 C758.4,782.5 758.3,775.4 758.4,772.6 C758.4,769.7 758.3,772.3 760.1,769.9 C761.8,767.4 767.4,759.8 768.9,757.7 C776.0,759.0 804.4,764.1 811.6,765.3 C807.4,760.9 793.0,745.9 786.4,738.8 C779.8,731.7 775.0,728.1 772.0,722.8 C769.0,717.5 769.8,713.1 768.3,706.9 C766.7,700.7 762.3,694.4 762.8,685.5 C763.3,676.6 766.4,662.8 771.3,653.7 C776.3,644.5 783.8,637.1 792.3,630.6 C800.8,624.0 813.1,617.8 822.3,614.6 C831.4,611.3 843.0,611.7 847.1,611.1" fill="none" stroke="#000" stroke-width="2.0" stroke-linejoin="round" stroke-dasharray="2 2.5"/>
<polygon points="854.9,608.8 858.4,615.4 851.4,615.4" fill="#000"/>
<polygon points="879.6,616.0 883.1,622.6 876.1,622.6" fill="#000"/>
<polygon points="901.5,630.0 905.0,636.7 898.0,636.7" fill="#000"/>
<polygon points="919.1,649.1 922.6,655.8 915.6,655.8" fill="#000"/>
<polygon points="927.1,673.5 930.6,680.1 923.6,680.1" fill="#000"/>
<polygon points="926.3,698.8 929.8,705.4 922.8,705.4" fill="#000"/>
<polygon points="920.6,724.2 924.1,730.8 917.1,730.8" fill="#000"/>
<polygon points="923.9,744.6 927.4,751.2 920.4,751.2" fill="#000"/>
<polygon points="943.9,758.6 947.4,765.2 940.4,765.2" fill="#000"/>
<polygon points="945.9,783.4 949.4,790.0 942.4,790.0" fill="#000"/>
<polygon points="930.8,804.1 934.3,810.7 927.3,810.7" fill="#000"/>
<polygon points="907.3,813.0 910.8,819.6 903.8,819.6" fill="#000"/>
<polygon points="882.2,808.2 885.7,814.8 878.7,814.8" fill="#000"/>
<polygon points="884.9,827.5 888.4,834.2 881.4,834.2" fill="#000"/>
<polygon points="874.7,846.4 878.2,853.0 871.2,853.0" fill="#000"/>
<polygon points="850.1,840.0 853.6,846.7 846.6,846.7" fill="#000"/>
<polygon points="826.9,833.7 830.4,840.3 823.4,840.3" fill="#000"/>
<polygon points="805.1,831.8 808.6,838.4 801.6,838.4" fill="#000"/>
<polygon points="811.2,807.8 814.7,814.5 807.7,814.5" fill="#000"/>
<polygon points="786.9,805.1 790.4,811.8 783.4,811.8" fill="#000"/>
<polygon points="765.0,793.4 768.5,800.0 761.5,800.0" fill="#000"/>
<polygon points="758.4,768.7 761.9,775.4 754.9,775.4" fill="#000"/>
<polygon points="776.4,755.1 779.9,761.8 772.9,761.8" fill="#000"/>
<polygon points="802.0,759.7 805.5,766.3 798.5,766.3" fill="#000"/>
<polygon points="800.3,749.5 803.8,756.2 796.8,756.2" fill="#000"/>
<polygon points="782.5,730.6 786.0,737.2 779.0,737.2" fill="#000"/>
<polygon points="769.7,708.9 773.2,715.5 766.2,715.5" fill="#000"/>
<polygon points="763.4,683.6 766.9,690.3 759.9,690.3" fill="#000"/>
<polygon points="769.0,658.5 772.5,665.2 765.5,665.2" fill="#000"/>
<polygon points="782.7,637.2 786.2,643.9 779.2,643.9" fill="#000"/>
<polygon points="802.6,621.1 806.1,627.7 799.1,627.7" fill="#000"/>
<polygon points="825.9,610.1 829.4,616.7 822.4,616.7" fill="#000"/>
<polyline points="847.1,734.4 862.8,693.3 883.8,685.9 901.3,694.7 909.9,712.4 904.3,728.3 905.9,738.9 891.6,753.1 877.2,767.2 864.8,774.4 878.2,770.5 891.5,767.8 907.2,774.7 910.9,786.5 906.0,797.0 897.5,804.0 886.6,804.9 875.8,803.5 866.0,797.4 853.9,791.1 847.3,788.9 847.6,810.1 846.4,788.1 838.8,790.6 822.9,799.2 808.3,804.1 787.5,808.0 776.7,799.9 768.2,790.5 764.5,772.6 761.9,773.4 761.8,755.9 775.9,745.6 784.5,733.5 786.0,714.1 796.3,696.6 813.8,691.4 834.8,709.4 847.1,734.4" fill="none" stroke="#ff0000" stroke-width="2.0" stroke-linejoin="round" stroke-dasharray="2 2.5"/>
<polygon points="849.2,732.8 852.7,726.1 845.7,726.1" fill="#ff0000"/>
<polygon points="857.1,712.2 860.6,705.6 853.6,705.6" fill="#ff0000"/>
<polygon points="868.4,695.3 871.9,688.6 864.9,688.6" fill="#ff0000"/>
<polygon points="888.9,692.5 892.4,685.8 885.4,685.8" fill="#ff0000"/>
<polygon points="904.9,706.0 908.4,699.4 901.4,699.4" fill="#ff0000"/>
<polygon points="906.4,726.3 909.9,719.7 902.9,719.7" fill="#ff0000"/>
<polygon points="902.4,746.4 905.9,739.7 898.9,739.7" fill="#ff0000"/>
<polygon points="886.8,761.8 890.3,755.2 883.3,755.2" fill="#ff0000"/>
<polygon points="869.7,775.5 873.2,768.8 866.2,768.8" fill="#ff0000"/>
<polygon points="880.5,774.0 884.0,767.4 877.0,767.4" fill="#ff0000"/>
<polygon points="901.4,776.1 904.9,769.5 897.9,769.5" fill="#ff0000"/>
<polygon points="909.5,793.4 913.0,786.8 906.0,786.8" fill="#ff0000"/>
<polygon points="894.9,808.2 898.4,801.5 891.4,801.5" fill="#ff0000"/>
<polygon points="873.4,806.0 876.9,799.4 869.9,799.4" fill="#ff0000"/>
<polygon points="854.3,795.2 857.8,788.6 850.8,788.6" fill="#ff0000"/>
<polygon points="847.5,807.5 851.0,800.9 844.0,800.9" fill="#ff0000"/>
<polygon points="846.7,798.7 850.2,792.0 843.2,792.0" fill="#ff0000"/>
<polygon points="832.3,798.1 835.8,791.4 828.8,791.4" fill="#ff0000"/>
<polygon points="812.2,806.8 815.7,800.2 808.7,800.2" fill="#ff0000"/>
<polygon points="790.7,811.4 794.2,804.8 787.2,804.8" fill="#ff0000"/>
<polygon points="773.2,800.0 776.7,793.4 769.7,793.4" fill="#ff0000"/>
<polygon points="765.2,780.2 768.7,773.6 761.7,773.6" fill="#ff0000"/>
<polygon points="761.8,761.8 765.3,755.1 758.3,755.1" fill="#ff0000"/>
<polygon points="777.4,747.4 780.9,740.8 773.9,740.8" fill="#ff0000"/>
<polygon points="785.3,727.7 788.8,721.1 781.8,721.1" fill="#ff0000"/>
<polygon points="792.3,707.5 795.8,700.8 788.8,700.8" fill="#ff0000"/>
<polygon points="809.7,696.6 813.2,689.9 806.2,689.9" fill="#ff0000"/>
<polygon points="827.3,706.9 830.8,700.3 823.8,700.3" fill="#ff0000"/>
<polygon points="840.1,724.2 843.6,717.6 836.6,717.6" fill="#ff0000"/>
<polyline points="882.0,816.0 886.8,822.0 895.8,835.5 900.3,847.0 884.0,849.0" fill="none" stroke="#000" stroke-width="2.0" stroke-linejoin="round" stroke-dasharray="2 2.5"/>
<polygon points="898.0,837.2 901.5,843.8 894.5,843.8" fill="#000"/>
<polyline points="900.0,818.0 911.6,820.5" fill="none" stroke="#000" stroke-width="2.0" stroke-linejoin="round" stroke-dasharray="2 2.5"/>
<path d="M847.1,608.6 C851.9,609.5 866.2,610.3 875.7,613.9 C885.2,617.5 896.2,623.7 904.3,630.0 C912.3,636.3 919.2,642.6 924.0,651.5 C928.8,660.4 932.6,672.3 932.9,683.6 C933.2,694.9 928.2,709.3 925.8,719.4 C923.4,729.5 919.8,740.2 918.6,744.4 C919.8,744.9 922.0,746.0 925.6,747.3 C929.2,748.6 936.2,748.7 940.3,752.2 C944.4,755.7 948.7,762.4 950.1,768.1 C951.5,773.8 950.2,781.0 948.8,786.5 C947.4,792.0 945.2,796.4 941.5,801.1 C937.8,805.8 932.3,811.7 926.8,814.6 C921.3,817.5 913.6,817.7 908.5,818.3 C903.4,818.9 901.0,819.3 896.3,818.3 C891.6,817.3 883.0,813.2 880.4,812.2 C880.8,814.0 881.8,819.8 882.8,823.2 C883.8,826.7 886.1,828.4 886.5,832.9 C886.9,837.4 885.4,847.2 885.2,850.1 C883.0,850.7 876.3,853.7 871.8,853.7 C867.3,853.7 862.4,851.5 858.3,850.1 C854.2,848.7 850.7,847.2 847.3,845.2 C843.9,843.2 841.0,839.2 837.8,838.3 C834.6,837.3 832.1,838.7 828.0,839.5 C823.9,840.3 817.7,843.2 813.4,843.2 C809.1,843.2 804.2,840.1 802.4,839.5 C803.0,838.5 804.6,836.5 806.0,833.4 C807.4,830.3 810.3,824.4 810.9,821.1 C811.5,817.8 810.7,815.8 809.7,813.8 C808.7,811.8 809.3,809.5 804.8,808.9 C800.3,808.3 788.1,811.3 782.8,810.1 C777.5,808.9 776.3,803.4 773.0,801.6 C769.7,799.8 765.9,801.6 763.2,799.1 C760.6,796.6 758.3,791.4 757.1,786.9 C755.9,782.4 755.8,775.1 755.9,772.2 C756.0,769.3 755.8,772.0 757.6,769.4 C759.4,766.8 765.0,759.0 766.5,756.9 C773.6,758.1 802.2,762.9 809.4,764.1 C805.2,759.6 790.9,744.4 784.4,737.3 C777.9,730.1 773.1,726.6 770.1,721.2 C767.1,715.8 768.0,711.4 766.5,705.1 C765.0,698.8 760.6,692.5 761.2,683.6 C761.8,674.7 765.1,660.7 770.1,651.5 C775.1,642.3 782.9,634.8 791.5,628.2 C800.1,621.6 812.6,615.4 821.9,612.1 C831.2,608.8 842.9,609.2 847.1,608.6" fill="none" stroke="#000" stroke-width="2.4" stroke-linejoin="round"/>
<rect x="843.4" y="604.9" width="7.5" height="7.5" fill="#000"/>
<rect x="872.7" y="610.6" width="7.5" height="7.5" fill="#000"/>
<rect x="898.9" y="625.3" width="7.5" height="7.5" fill="#000"/>
<rect x="919.5" y="647.0" width="7.5" height="7.5" fill="#000"/>
<rect x="928.0" y="675.6" width="7.5" height="7.5" fill="#000"/>
<rect x="924.2" y="705.0" width="7.5" height="7.5" fill="#000"/>
<rect x="916.8" y="734.0" width="7.5" height="7.5" fill="#000"/>
<rect x="936.6" y="748.5" width="7.5" height="7.5" fill="#000"/>
<rect x="945.5" y="775.7" width="7.5" height="7.5" fill="#000"/>
<rect x="932.9" y="801.8" width="7.5" height="7.5" fill="#000"/>
<rect x="906.7" y="814.1" width="7.5" height="7.5" fill="#000"/>
<rect x="877.8" y="808.9" width="7.5" height="7.5" fill="#000"/>
<rect x="882.2" y="836.2" width="7.5" height="7.5" fill="#000"/>
<rect x="862.3" y="848.4" width="7.5" height="7.5" fill="#000"/>
<rect x="835.5" y="835.6" width="7.5" height="7.5" fill="#000"/>
<rect x="806.5" y="838.4" width="7.5" height="7.5" fill="#000"/>
<rect x="806.9" y="816.0" width="7.5" height="7.5" fill="#000"/>
<rect x="784.1" y="806.1" width="7.5" height="7.5" fill="#000"/>
<rect x="758.6" y="793.7" width="7.5" height="7.5" fill="#000"/>
<rect x="754.0" y="765.5" width="7.5" height="7.5" fill="#000"/>
<rect x="777.4" y="755.6" width="7.5" height="7.5" fill="#000"/>
<rect x="804.7" y="759.3" width="7.5" height="7.5" fill="#000"/>
<rect x="784.2" y="737.4" width="7.5" height="7.5" fill="#000"/>
<rect x="765.7" y="714.3" width="7.5" height="7.5" fill="#000"/>
<rect x="758.8" y="685.1" width="7.5" height="7.5" fill="#000"/>
<rect x="764.0" y="656.2" width="7.5" height="7.5" fill="#000"/>
<rect x="780.7" y="632.1" width="7.5" height="7.5" fill="#000"/>
<rect x="805.1" y="615.3" width="7.5" height="7.5" fill="#000"/>
<rect x="833.2" y="606.3" width="7.5" height="7.5" fill="#000"/>
<polyline points="847.1,731.9 863.2,690.8 884.7,683.6 902.6,692.6 911.5,710.5 906.1,726.5 907.9,737.3 893.6,751.6 879.3,765.9 866.9,773.0 880.4,769.4 893.8,766.9 909.7,774.2 913.4,786.5 908.5,797.5 899.9,804.8 888.9,806.0 877.9,804.8 868.1,798.7 855.9,792.6 847.3,788.9 847.6,812.6 846.4,788.1 836.6,791.8 820.7,800.4 806.0,805.2 785.2,808.9 774.2,800.4 765.7,790.6 762.0,772.2 759.4,773.0 759.4,755.1 773.7,744.4 782.6,731.9 784.4,712.2 795.1,694.4 813.0,689.0 834.4,706.9 847.1,731.9" fill="none" stroke="#ff0000" stroke-width="2.4" stroke-linejoin="round"/>
<circle cx="851.1" cy="721.7" r="3.25" fill="#ff0000"/>
<circle cx="859.1" cy="701.2" r="3.25" fill="#ff0000"/>
<circle cx="873.5" cy="687.4" r="3.25" fill="#ff0000"/>
<circle cx="893.8" cy="688.2" r="3.25" fill="#ff0000"/>
<circle cx="908.0" cy="703.5" r="3.25" fill="#ff0000"/>
<circle cx="907.0" cy="723.9" r="3.25" fill="#ff0000"/>
<circle cx="902.0" cy="743.2" r="3.25" fill="#ff0000"/>
<circle cx="886.5" cy="758.7" r="3.25" fill="#ff0000"/>
<circle cx="869.0" cy="771.8" r="3.25" fill="#ff0000"/>
<circle cx="885.9" cy="768.4" r="3.25" fill="#ff0000"/>
<circle cx="906.5" cy="772.7" r="3.25" fill="#ff0000"/>
<circle cx="911.1" cy="791.7" r="3.25" fill="#ff0000"/>
<circle cx="895.6" cy="805.3" r="3.25" fill="#ff0000"/>
<circle cx="874.3" cy="802.6" r="3.25" fill="#ff0000"/>
<circle cx="855.0" cy="792.2" r="3.25" fill="#ff0000"/>
<circle cx="847.5" cy="802.5" r="3.25" fill="#ff0000"/>
<circle cx="847.0" cy="800.7" r="3.25" fill="#ff0000"/>
<circle cx="837.6" cy="791.4" r="3.25" fill="#ff0000"/>
<circle cx="818.0" cy="801.3" r="3.25" fill="#ff0000"/>
<circle cx="796.7" cy="806.8" r="3.25" fill="#ff0000"/>
<circle cx="777.1" cy="802.6" r="3.25" fill="#ff0000"/>
<circle cx="764.6" cy="785.3" r="3.25" fill="#ff0000"/>
<circle cx="759.4" cy="767.1" r="3.25" fill="#ff0000"/>
<circle cx="767.4" cy="749.1" r="3.25" fill="#ff0000"/>
<circle cx="781.9" cy="732.9" r="3.25" fill="#ff0000"/>
<circle cx="784.9" cy="711.3" r="3.25" fill="#ff0000"/>
<circle cx="797.3" cy="693.7" r="3.25" fill="#ff0000"/>
<circle cx="817.3" cy="692.6" r="3.25" fill="#ff0000"/>
<circle cx="834.1" cy="706.7" r="3.25" fill="#ff0000"/>
<circle cx="844.2" cy="726.2" r="3.25" fill="#ff0000"/>
<circle cx="847.1" cy="785.8" r="177.1" fill="none" stroke="#000" stroke-width="1.8"/>
<line x1="847.10" y1="608.70" x2="847.10" y2="615.20" stroke="#000" stroke-width="1.8"/>
<line x1="892.94" y1="614.73" x2="892.03" y2="618.12" stroke="#000" stroke-width="1.8"/>
<line x1="935.65" y1="632.43" x2="932.40" y2="638.06" stroke="#000" stroke-width="1.8"/>
<line x1="972.33" y1="660.57" x2="969.85" y2="663.05" stroke="#000" stroke-width="1.8"/>
<line x1="1000.47" y1="697.25" x2="994.84" y2="700.50" stroke="#000" stroke-width="1.8"/>
<line x1="1018.17" y1="739.96" x2="1014.78" y2="740.87" stroke="#000" stroke-width="1.8"/>
<line x1="1024.20" y1="785.80" x2="1017.70" y2="785.80" stroke="#000" stroke-width="1.8"/>
<line x1="1018.17" y1="831.64" x2="1014.78" y2="830.73" stroke="#000" stroke-width="1.8"/>
<line x1="1000.47" y1="874.35" x2="994.84" y2="871.10" stroke="#000" stroke-width="1.8"/>
<line x1="972.33" y1="911.03" x2="969.85" y2="908.55" stroke="#000" stroke-width="1.8"/>
<line x1="935.65" y1="939.17" x2="932.40" y2="933.54" stroke="#000" stroke-width="1.8"/>
<line x1="892.94" y1="956.87" x2="892.03" y2="953.48" stroke="#000" stroke-width="1.8"/>
<line x1="847.10" y1="962.90" x2="847.10" y2="956.40" stroke="#000" stroke-width="1.8"/>
<line x1="801.26" y1="956.87" x2="802.17" y2="953.48" stroke="#000" stroke-width="1.8"/>
<line x1="758.55" y1="939.17" x2="761.80" y2="933.54" stroke="#000" stroke-width="1.8"/>
<line x1="721.87" y1="911.03" x2="724.35" y2="908.55" stroke="#000" stroke-width="1.8"/>
<line x1="693.73" y1="874.35" x2="699.36" y2="871.10" stroke="#000" stroke-width="1.8"/>
<line x1="676.03" y1="831.64" x2="679.42" y2="830.73" stroke="#000" stroke-width="1.8"/>
<line x1="670.00" y1="785.80" x2="676.50" y2="785.80" stroke="#000" stroke-width="1.8"/>
<line x1="676.03" y1="739.96" x2="679.42" y2="740.87" stroke="#000" stroke-width="1.8"/>
<line x1="693.73" y1="697.25" x2="699.36" y2="700.50" stroke="#000" stroke-width="1.8"/>
<line x1="721.87" y1="660.57" x2="724.35" y2="663.05" stroke="#000" stroke-width="1.8"/>
<line x1="758.55" y1="632.43" x2="761.80" y2="638.06" stroke="#000" stroke-width="1.8"/>
<line x1="801.26" y1="614.73" x2="802.17" y2="618.12" stroke="#000" stroke-width="1.8"/>
<text transform="translate(838.75,585.54) scale(1.2887,1)" font-family="'Liberation Serif', serif" font-weight="bold" font-size="25.93" fill="#000">0</text>
<text transform="translate(715.41,616.01) scale(1.1890,1)" font-family="'Liberation Serif', serif" font-weight="bold" font-size="29.04" fill="#000">330</text>
<text transform="translate(924.95,616.01) scale(1.2435,1)" font-family="'Liberation Serif', serif" font-weight="bold" font-size="29.04" fill="#000">30</text>
<text transform="translate(638.72,692.20) scale(1.1558,1)" font-family="'Liberation Serif', serif" font-weight="bold" font-size="29.63" fill="#000">300</text>
<text transform="translate(1001.34,692.20) scale(1.2117,1)" font-family="'Liberation Serif', serif" font-weight="bold" font-size="29.63" fill="#000">60</text>
<text transform="translate(611.97,794.39) scale(1.0977,1)" font-family="'Liberation Serif', serif" font-weight="bold" font-size="30.67" fill="#000">270</text>
<text transform="translate(1032.09,794.39) scale(1.0811,1)" font-family="'Liberation Serif', serif" font-weight="bold" font-size="30.67" fill="#000">90</text>
<text transform="translate(638.54,899.39) scale(1.1099,1)" font-family="'Liberation Serif', serif" font-weight="bold" font-size="30.96" fill="#000">240</text>
<text transform="translate(1000.74,899.39) scale(1.0723,1)" font-family="'Liberation Serif', serif" font-weight="bold" font-size="30.96" fill="#000">120</text>
<text transform="translate(716.46,974.41) scale(1.1641,1)" font-family="'Liberation Serif', serif" font-weight="bold" font-size="29.04" fill="#000">210</text>
<text transform="translate(925.63,974.41) scale(1.1932,1)" font-family="'Liberation Serif', serif" font-weight="bold" font-size="29.04" fill="#000">150</text>
<text transform="translate(820.42,998.20) scale(1.1569,1)" font-family="'Liberation Serif', serif" font-weight="bold" font-size="30.07" fill="#000">180</text>
<polygon points="841.0,792.7 844.2,786.5 837.8,786.5" fill="#ff0000"/>
<polygon points="853.0,792.7 856.2,786.5 849.8,786.5" fill="#ff0000"/>
<polygon points="847.0,796.7 850.2,790.5 843.8,790.5" fill="#ff0000"/>
<polygon points="838.0,799.7 841.2,793.5 834.8,793.5" fill="#ff0000"/>
<polygon points="856.0,800.7 859.2,794.5 852.8,794.5" fill="#ff0000"/>
<polygon points="847.0,803.7 850.2,797.5 843.8,797.5" fill="#ff0000"/>
<polygon points="843.0,808.7 846.2,802.5 839.8,802.5" fill="#ff0000"/>
<polygon points="851.0,807.7 854.2,801.5 847.8,801.5" fill="#ff0000"/>
<polygon points="847.0,813.7 850.2,807.5 843.8,807.5" fill="#ff0000"/>
<line x1="84.5" y1="118.6" x2="84.5" y2="478.20000000000005" stroke="#000" stroke-width="2"/>
<line x1="78" y1="118.60" x2="85" y2="118.60" stroke="#000" stroke-width="2"/>
<text transform="translate(57.01,128.39) scale(1.0162,1)" font-family="'Liberation Serif', serif" font-weight="bold" font-size="31.26" fill="#000">0</text>
<line x1="78" y1="163.55" x2="85" y2="163.55" stroke="#000" stroke-width="2"/>
<text transform="translate(28.24,173.34) scale(1.0736,1)" font-family="'Liberation Serif', serif" font-weight="bold" font-size="31.26" fill="#000">-10</text>
<line x1="78" y1="208.50" x2="85" y2="208.50" stroke="#000" stroke-width="2"/>
<text transform="translate(28.24,218.29) scale(1.0736,1)" font-family="'Liberation Serif', serif" font-weight="bold" font-size="31.26" fill="#000">-20</text>
<line x1="78" y1="253.45" x2="85" y2="253.45" stroke="#000" stroke-width="2"/>
<text transform="translate(28.24,263.24) scale(1.0736,1)" font-family="'Liberation Serif', serif" font-weight="bold" font-size="31.26" fill="#000">-30</text>
<line x1="78" y1="298.40" x2="85" y2="298.40" stroke="#000" stroke-width="2"/>
<text transform="translate(28.24,308.19) scale(1.0736,1)" font-family="'Liberation Serif', serif" font-weight="bold" font-size="31.26" fill="#000">-40</text>
<line x1="78" y1="343.35" x2="85" y2="343.35" stroke="#000" stroke-width="2"/>
<text transform="translate(28.24,353.14) scale(1.0736,1)" font-family="'Liberation Serif', serif" font-weight="bold" font-size="31.26" fill="#000">-30</text>
<line x1="78" y1="388.30" x2="85" y2="388.30" stroke="#000" stroke-width="2"/>
<text transform="translate(28.24,398.09) scale(1.0736,1)" font-family="'Liberation Serif', serif" font-weight="bold" font-size="31.26" fill="#000">-20</text>
<line x1="78" y1="433.25" x2="85" y2="433.25" stroke="#000" stroke-width="2"/>
<text transform="translate(28.24,443.04) scale(1.0736,1)" font-family="'Liberation Serif', serif" font-weight="bold" font-size="31.26" fill="#000">-10</text>
<line x1="78" y1="478.20" x2="85" y2="478.20" stroke="#000" stroke-width="2"/>
<text transform="translate(57.01,487.99) scale(1.0162,1)" font-family="'Liberation Serif', serif" font-weight="bold" font-size="31.26" fill="#000">0</text>
<line x1="84.5" y1="614.3" x2="84.5" y2="973.9" stroke="#000" stroke-width="2"/>
<line x1="78" y1="614.30" x2="85" y2="614.30" stroke="#000" stroke-width="2"/>
<text transform="translate(57.01,624.09) scale(1.0162,1)" font-family="'Liberation Serif', serif" font-weight="bold" font-size="31.26" fill="#000">0</text>
<line x1="78" y1="659.25" x2="85" y2="659.25" stroke="#000" stroke-width="2"/>
<text transform="translate(28.24,669.04) scale(1.0736,1)" font-family="'Liberation Serif', serif" font-weight="bold" font-size="31.26" fill="#000">-10</text>
<line x1="78" y1="704.20" x2="85" y2="704.20" stroke="#000" stroke-width="2"/>
<text transform="translate(28.24,713.99) scale(1.0736,1)" font-family="'Liberation Serif', serif" font-weight="bold" font-size="31.26" fill="#000">-20</text>
<line x1="78" y1="749.15" x2="85" y2="749.15" stroke="#000" stroke-width="2"/>
<text transform="translate(28.24,758.94) scale(1.0736,1)" font-family="'Liberation Serif', serif" font-weight="bold" font-size="31.26" fill="#000">-30</text>
<line x1="78" y1="794.10" x2="85" y2="794.10" stroke="#000" stroke-width="2"/>
<text transform="translate(28.24,803.89) scale(1.0736,1)" font-family="'Liberation Serif', serif" font-weight="bold" font-size="31.26" fill="#000">-40</text>
<line x1="78" y1="839.05" x2="85" y2="839.05" stroke="#000" stroke-width="2"/>
<text transform="translate(28.24,848.84) scale(1.0736,1)" font-family="'Liberation Serif', serif" font-weight="bold" font-size="31.26" fill="#000">-30</text>
<line x1="78" y1="884.00" x2="85" y2="884.00" stroke="#000" stroke-width="2"/>
<text transform="translate(28.24,893.79) scale(1.0736,1)" font-family="'Liberation Serif', serif" font-weight="bold" font-size="31.26" fill="#000">-20</text>
<line x1="78" y1="928.95" x2="85" y2="928.95" stroke="#000" stroke-width="2"/>
<text transform="translate(28.24,938.74) scale(1.0736,1)" font-family="'Liberation Serif', serif" font-weight="bold" font-size="31.26" fill="#000">-10</text>
<line x1="78" y1="973.90" x2="85" y2="973.90" stroke="#000" stroke-width="2"/>
<text transform="translate(57.01,983.69) scale(1.0162,1)" font-family="'Liberation Serif', serif" font-weight="bold" font-size="31.26" fill="#000">0</text>
<text transform="translate(266.98,42.14) scale(1.0353,1)" font-family="'Liberation Serif', serif" font-weight="normal" font-size="60.06" fill="#000">ϕ</text>
<text transform="translate(312.33,39.92) scale(1.2020,1)" font-family="'Liberation Serif', serif" font-weight="normal" font-size="56.00" fill="#000">=</text>
<text transform="translate(360.84,40.32) scale(1.0319,1)" font-family="'Liberation Serif', serif" font-weight="normal" font-size="58.37" fill="#000">0</text>
<text transform="translate(392.01,39.17) scale(1.0093,1)" font-family="'Liberation Serif', serif" font-weight="normal" font-size="56.20" fill="#000">°</text>
<text transform="translate(756.85,41.83) scale(1.0575,1)" font-family="'Liberation Serif', serif" font-weight="normal" font-size="59.61" fill="#000">ϕ</text>
<text transform="translate(802.00,40.47) scale(1.1881,1)" font-family="'Liberation Serif', serif" font-weight="normal" font-size="57.20" fill="#000">=</text>
<text transform="translate(852.80,41.40) scale(0.9183,1)" font-family="'Liberation Serif', serif" font-weight="normal" font-size="60.37" fill="#000">9</text>
<text transform="translate(879.94,41.40) scale(1.0484,1)" font-family="'Liberation Serif', serif" font-weight="normal" font-size="60.15" fill="#000">0</text>
<text transform="translate(910.57,39.65) scale(1.0716,1)" font-family="'Liberation Serif', serif" font-weight="normal" font-size="57.52" fill="#000">°</text>
<text transform="translate(568.02,550.96) scale(1.3216,1)" font-family="'Liberation Serif', serif" font-weight="normal" font-size="38.79" fill="#000">(</text>
<text transform="translate(584.76,556.32) scale(1.1086,1)" font-family="'Liberation Serif', serif" font-weight="normal" font-size="47.50" fill="#000">a</text>
<text transform="translate(607.33,558.28) scale(1.2780,1)" font-family="'Liberation Serif', serif" font-weight="normal" font-size="40.11" fill="#000">)</text>
<text transform="translate(566.00,1055.84) scale(1.0823,1)" font-family="'Liberation Serif', serif" font-weight="normal" font-size="47.82" fill="#000">(b)</text>
<g transform="translate(0,0)">
<path d="M417,78.2 C445,79 468,88 483,110" fill="none" stroke="#000" stroke-width="2.3"/>
<polygon points="477.7,113.4 491.1,109.1 489.3,131.2" fill="#000"/>
<text transform="translate(478.92,94.44) scale(1.1235,1)" font-family="'Liberation Serif', serif" font-weight="normal" font-size="55.92" fill="#000">θ</text>
</g>
<g transform="translate(482.5,-8.8)">
<path d="M417,78.2 C445,79 468,88 483,110" fill="none" stroke="#000" stroke-width="2.3"/>
<polygon points="477.7,113.4 491.1,109.1 489.3,131.2" fill="#000"/>
<text transform="translate(478.92,94.44) scale(1.1235,1)" font-family="'Liberation Serif', serif" font-weight="normal" font-size="55.92" fill="#000">θ</text>
</g>
<g transform="translate(0,482.1)">
<path d="M417,78.2 C445,79 468,88 483,110" fill="none" stroke="#000" stroke-width="2.3"/>
<polygon points="477.7,113.4 491.1,109.1 489.3,131.2" fill="#000"/>
<text transform="translate(478.92,94.44) scale(1.1235,1)" font-family="'Liberation Serif', serif" font-weight="normal" font-size="55.92" fill="#000">θ</text>
</g>
<g transform="translate(491,473.3)">
<path d="M417,78.2 C445,79 468,88 483,110" fill="none" stroke="#000" stroke-width="2.3"/>
<polygon points="477.7,113.4 491.1,109.1 489.3,131.2" fill="#000"/>
<text transform="translate(478.92,94.44) scale(1.1235,1)" font-family="'Liberation Serif', serif" font-weight="normal" font-size="55.92" fill="#000">θ</text>
</g>
<line x1="185" y1="1093.6" x2="272" y2="1093.6" stroke="#000" stroke-width="3"/>
<rect x="220.4" y="1085.2" width="16" height="16" fill="#000"/>
<line x1="185" y1="1139.3" x2="272" y2="1139.3" stroke="#000" stroke-width="3" stroke-dasharray="2.5 4.5"/>
<polygon points="228.5,1126.9 239.6,1146.3 217.6,1146.3" fill="#000"/>
<line x1="590" y1="1093.6" x2="676" y2="1093.6" stroke="#f00" stroke-width="3"/>
<circle cx="632.7" cy="1093.6" r="8.7" fill="#f00"/>
<line x1="586" y1="1139.7" x2="667" y2="1139.7" stroke="#f00" stroke-width="3" stroke-dasharray="2.5 4.5"/>
<polygon points="619.5,1134 640.5,1134 630,1151" fill="#f00"/>
<text transform="translate(280.70,1104.20) scale(1.0154,1)" font-family="'Liberation Sans', sans-serif" font-weight="bold" font-size="36.22" fill="#000">Simulated Co-pol</text>
<text transform="translate(279.92,1151.30) scale(1.0324,1)" font-family="'Liberation Sans', sans-serif" font-weight="bold" font-size="35.64" fill="#000">Measured Co-pol</text>
<text transform="translate(686.20,1104.20) scale(1.0115,1)" font-family="'Liberation Sans', sans-serif" font-weight="bold" font-size="36.22" fill="#000">Simulated X-pol</text>
<text transform="translate(680.82,1151.30) scale(1.0330,1)" font-family="'Liberation Sans', sans-serif" font-weight="bold" font-size="35.64" fill="#000">Measured X-pol</text>
</svg></body></html>
